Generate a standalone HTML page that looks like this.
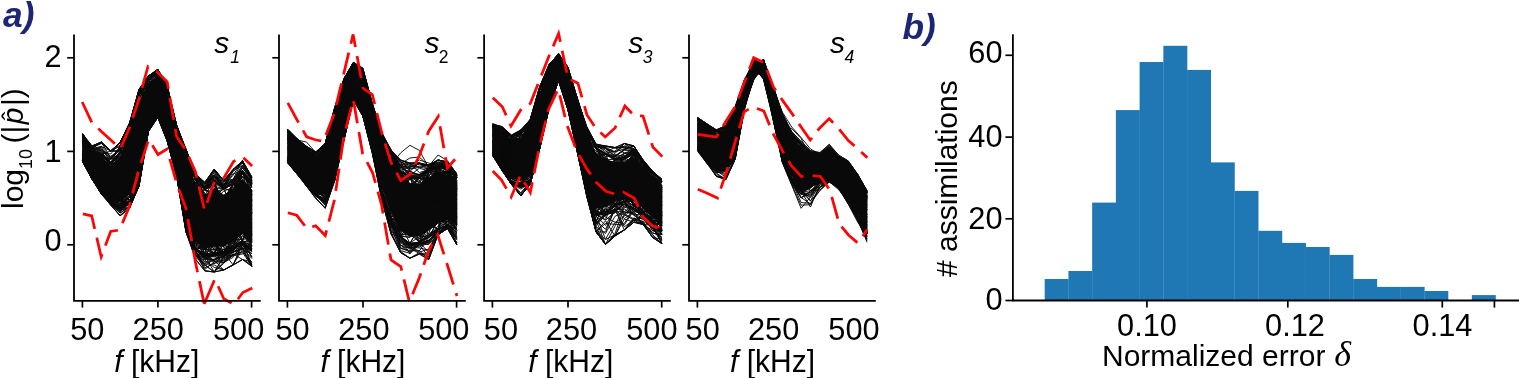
<!DOCTYPE html>
<html lang="en"><head><meta charset="utf-8"><title>Figure</title>
<style>html,body{margin:0;padding:0;background:#fff;width:1519px;height:378px;overflow:hidden}</style></head>
<body>
<svg width="1519" height="378" viewBox="0 0 1519 378" style="display:block;position:absolute;left:0;top:0">
<rect width="1519" height="378" fill="#fff"/>
<g>
<polygon fill="#0a0a0a" stroke="#0a0a0a" stroke-width="0.8" stroke-linejoin="round" points="82.5,135.5 91.9,151 101.3,157 110.7,165.8 120.1,157.8 129.6,134.7 139,102.9 148.4,83.7 157.8,75.1 167.2,92.7 176.6,131.9 186,160.2 195.4,184.4 204.8,196.1 214.2,188.5 223.7,194.9 233.1,189.9 242.5,178.7 251.9,190.2 251.9,242.8 242.5,233.3 233.1,241.1 223.7,246.1 214.2,246.5 204.8,247.9 195.4,241.6 186,216.8 176.6,170.1 167.2,134.3 157.8,112.4 148.4,125.3 139,171.1 129.6,193.3 120.1,202.2 110.7,199.2 101.3,189.5 91.9,177 82.5,160.5"/>
<path fill="none" stroke="#0a0a0a" stroke-width="0.95" stroke-linejoin="round" d="M82.5,133.9L91.9,147.5L101.3,143L110.7,151L120.1,142.5L129.6,123.2L139,89.6L148.4,76.5L157.8,69.3L167.2,86L176.6,125.2L186,150L195.4,173.7L204.8,182.5L214.2,169.7L223.7,181.9L233.1,170.2L242.5,160.8L251.9,177.8M82.5,161.3L91.9,178.9L101.3,193.6L110.7,203.6L120.1,212.9L129.6,206.4L139,184.5L148.4,130.6L157.8,117L167.2,141L176.6,176L186,231L195.4,259L204.8,270.8L214.2,272L223.7,270L233.1,265L242.5,259.5L251.9,264.7M82.5,135L91.9,146L101.3,142L110.7,151L120.1,142.5L129.6,123L139,90.7L148.4,76L157.8,71.7L167.2,88.4L176.6,128.2L186,152.1L195.4,176.5L204.8,183L214.2,175L223.7,186.1L233.1,169.5L242.5,163L251.9,178.1M82.5,140.4L91.9,151L101.3,161.7L110.7,168.7L120.1,165.6L129.6,131.8L139,121.5L148.4,97.2L157.8,81L167.2,103.5L176.6,150L186,201.3L195.4,181.8L204.8,208.1L214.2,203L223.7,201.1L233.1,183.9L242.5,192.4L251.9,184M82.5,157.1L91.9,167L101.3,184.7L110.7,201.3L120.1,210.5L129.6,188.5L139,159.6L148.4,128.6L157.8,115.4L167.2,138.2L176.6,168.8L186,222.5L195.4,245.3L204.8,247.3L214.2,236.1L223.7,247.1L233.1,246.4L242.5,235.8L251.9,241.6M82.5,161.5L91.9,178.8L101.3,191.7L110.7,205L120.1,215.8L129.6,208L139,186L148.4,131L157.8,115.5L167.2,141L176.6,176L186,232L195.4,254.5L204.8,269.4L214.2,261.9L223.7,260.2L233.1,254.7L242.5,252.5L251.9,266.4M82.5,134.2L91.9,148.9L101.3,142L110.7,151L120.1,146.2L129.6,123.6L139,91.6L148.4,79L157.8,72.3L167.2,88.8L176.6,128.9L186,152.3L195.4,174.9L204.8,183.5L214.2,170.2L223.7,180.5L233.1,169.5L242.5,162.9L251.9,180.4M82.5,138.1L91.9,159L101.3,166.3L110.7,165.6L120.1,153.3L129.6,156.7L139,127.2L148.4,109.9L157.8,105.9L167.2,101L176.6,139.2L186,170.1L195.4,196.2L204.8,207.6L214.2,196.2L223.7,199.6L233.1,182.9L242.5,171.7L251.9,183.6M82.5,134.6L91.9,149.6L101.3,150.7L110.7,158.8L120.1,147.9L129.6,123.7L139,90L148.4,76L157.8,70.3L167.2,86.6L176.6,127.2L186,149.5L195.4,175.1L204.8,182.5L214.2,169L223.7,180.5L233.1,169.5L242.5,163.1L251.9,177M82.5,141.9L91.9,151.1L101.3,160.1L110.7,163.5L120.1,176.5L129.6,128.2L139,113.6L148.4,97.5L157.8,72.5L167.2,98.1L176.6,147.9L186,184.1L195.4,205.7L204.8,223.6L214.2,211.7L223.7,214.6L233.1,202.9L242.5,199.8L251.9,192.3M82.5,160.5L91.9,177.5L101.3,191.8L110.7,201.1L120.1,207.1L129.6,200.6L139,178.2L148.4,129L157.8,94L167.2,127.7L176.6,158.6L186,201.7L195.4,214.9L204.8,218L214.2,218.7L223.7,247.6L233.1,250.2L242.5,240.8L251.9,251.9M82.5,134.4L91.9,149L101.3,146.2L110.7,157.3L120.1,149.7L129.6,123.6L139,89.5L148.4,76L157.8,69.3L167.2,85.6L176.6,127.5L186,152.9L195.4,175.7L204.8,188.1L214.2,179.3L223.7,187.8L233.1,182.9L242.5,167.4L251.9,182.2M82.5,135.4L91.9,151L101.3,163.6L110.7,169.7L120.1,153.4L129.6,145.6L139,92.8L148.4,80L157.8,72.5L167.2,88.4L176.6,131.9L186,158L195.4,176.6L204.8,190L214.2,180.6L223.7,185L233.1,179L242.5,171.2L251.9,184M82.5,135.5L91.9,157.5L101.3,161.5L110.7,169.8L120.1,164.4L129.6,126.9L139,92.8L148.4,91.7L157.8,81.1L167.2,91.6L176.6,133.8L186,153L195.4,180.8L204.8,189.9L214.2,182.3L223.7,187.5L233.1,192.6L242.5,172L251.9,182.6M82.5,135.3L91.9,151L101.3,183.3L110.7,169L120.1,161.7L129.6,129L139,99.2L148.4,79.2L157.8,71.6L167.2,89L176.6,129L186,177.5L195.4,179.8L204.8,194.6L214.2,230L223.7,200.9L233.1,183.8L242.5,172L251.9,184M82.5,160.7L91.9,177.6L101.3,194L110.7,205L120.1,206.8L129.6,201.9L139,181.3L148.4,129.9L157.8,115.8L167.2,141L176.6,176L186,232L195.4,257.5L204.8,263.6L214.2,265L223.7,270L233.1,264.6L242.5,249.6L251.9,266.4M82.5,138.3L91.9,151.9L101.3,150.4L110.7,167.8L120.1,168.7L129.6,142.8L139,132.1L148.4,101.1L157.8,89.9L167.2,88.7L176.6,129L186,168L195.4,217.5L204.8,240.4L214.2,240.3L223.7,206.3L233.1,182.8L242.5,180.8L251.9,196.1M82.5,134.9L91.9,146L101.3,149.2L110.7,156.3L120.1,149.6L129.6,126.1L139,91.8L148.4,79L157.8,71.5L167.2,88.5L176.6,128.5L186,151.6L195.4,174.8L204.8,189.7L214.2,178.7L223.7,188.5L233.1,182.6L242.5,167.7L251.9,179.2M82.5,136.7L91.9,150.3L101.3,153.2L110.7,162.9L120.1,163.6L129.6,125.6L139,92.8L148.4,79.6L157.8,72.5L167.2,88.8L176.6,129L186,171.8L195.4,189L204.8,198.6L214.2,188.7L223.7,188.7L233.1,184L242.5,171.9L251.9,183.2M82.5,159.6L91.9,173.2L101.3,191.3L110.7,201.7L120.1,209.3L129.6,202.3L139,181.1L148.4,126.9L157.8,111L167.2,138.1L176.6,173L186,203.4L195.4,236.9L204.8,228.5L214.2,241L223.7,229.4L233.1,217.9L242.5,225L251.9,239.8M82.5,150.8L91.9,177.1L101.3,187.3L110.7,193.8L120.1,197.4L129.6,169.2L139,181L148.4,129L157.8,108.4L167.2,129.5L176.6,153.4L186,200.3L195.4,248.7L204.8,228.2L214.2,229.8L223.7,241.2L233.1,247.3L242.5,243.1L251.9,249M82.5,135.5L91.9,156.9L101.3,172.8L110.7,175.7L120.1,160.5L129.6,142L139,92.5L148.4,79.9L157.8,72.1L167.2,107.9L176.6,144.9L186,169L195.4,183.2L204.8,187L214.2,180.9L223.7,209.5L233.1,185.5L242.5,183.7L251.9,200.5M82.5,161.5L91.9,178.7L101.3,192.8L110.7,204.6L120.1,207.8L129.6,203.1L139,185.1L148.4,129.5L157.8,116.8L167.2,139.2L176.6,173L186,224.9L195.4,249.5L204.8,258.9L214.2,255.4L223.7,262.7L233.1,251.7L242.5,249.4L251.9,253.6M82.5,154.3L91.9,164.7L101.3,188.5L110.7,201L120.1,199.5L129.6,193.9L139,150.3L148.4,105.9L157.8,94L167.2,125.6L176.6,166.6L186,201.8L195.4,243.2L204.8,254.1L214.2,252.3L223.7,252.5L233.1,242L242.5,230.1L251.9,245.5M82.5,150L91.9,177L101.3,184.8L110.7,195.1L120.1,184.7L129.6,192.5L139,181.3L148.4,129.3L157.8,115.3L167.2,126.8L176.6,159L186,203L195.4,221.4L204.8,254L214.2,254L223.7,249.5L233.1,247.1L242.5,225.3L251.9,227M82.5,139.3L91.9,159.3L101.3,155.2L110.7,163.4L120.1,153.5L129.6,126.4L139,92.6L148.4,85.4L157.8,85.4L167.2,108.4L176.6,138.8L186,158.8L195.4,197.5L204.8,195L214.2,190.2L223.7,211.7L233.1,191.4L242.5,171.9L251.9,184M82.5,133.7L91.9,147.8L101.3,142L110.7,151L120.1,142.5L129.6,123L139,89.5L148.4,76L157.8,69.3L167.2,85.5L176.6,125L186,149.5L195.4,175.8L204.8,184.9L214.2,177.5L223.7,185.1L233.1,169.5L242.5,160.8L251.9,177M82.5,160.9L91.9,177.8L101.3,188.2L110.7,201.4L120.1,211.7L129.6,201.6L139,182.6L148.4,126.2L157.8,115.1L167.2,129.4L176.6,173.1L186,209.3L195.4,209.2L204.8,248.7L214.2,263.9L223.7,254.2L233.1,252.6L242.5,244.1L251.9,250.4M82.5,156.6L91.9,173.3L101.3,172.8L110.7,199.1L120.1,207.5L129.6,185.1L139,181.1L148.4,125.9L157.8,106.3L167.2,138L176.6,170.8L186,217.3L195.4,249.3L204.8,255.3L214.2,254.8L223.7,229.4L233.1,206L242.5,224.8L251.9,219.9M82.5,135.5L91.9,161.8L101.3,158.9L110.7,168.6L120.1,160.2L129.6,158.3L139,94.1L148.4,85L157.8,77.2L167.2,102.3L176.6,143.9L186,165.4L195.4,194.4L204.8,199.2L214.2,201.1L223.7,202.8L233.1,188.6L242.5,181.1L251.9,200.1M82.5,135.2L91.9,151L101.3,146.4L110.7,151L120.1,142.5L129.6,124.3L139,96.1L148.4,80L157.8,74.6L167.2,88.8L176.6,125L186,149.5L195.4,175.5L204.8,188.1L214.2,172.4L223.7,188L233.1,173.9L242.5,170.8L251.9,184.9M82.5,153.6L91.9,177L101.3,181.6L110.7,201L120.1,206.5L129.6,192.8L139,157.4L148.4,123.8L157.8,94.7L167.2,122.3L176.6,161.3L186,223.2L195.4,227.8L204.8,255.1L214.2,254L223.7,235.6L233.1,247.7L242.5,245.6L251.9,249.6M82.5,155.5L91.9,177.1L101.3,191.1L110.7,201L120.1,206.5L129.6,195.6L139,181L148.4,129.1L157.8,112.1L167.2,134.1L176.6,173.9L186,224.7L195.4,249L204.8,258.1L214.2,254.5L223.7,236.9L233.1,244.2L242.5,220.9L251.9,228.6M82.5,160.5L91.9,176.4L101.3,189.2L110.7,201.7L120.1,206.6L129.6,201L139,183.4L148.4,129.2L157.8,116.2L167.2,140.1L176.6,173.7L186,221.8L195.4,249.5L204.8,256.9L214.2,260.5L223.7,255.4L233.1,255.2L242.5,254L251.9,250M82.5,134.3L91.9,147.9L101.3,155.1L110.7,163.8L120.1,145.2L129.6,125L139,91.3L148.4,78L157.8,70.4L167.2,85.5L176.6,127.5L186,150.3L195.4,174.5L204.8,183.9L214.2,169.9L223.7,186.2L233.1,180.6L242.5,165.9L251.9,177.8M82.5,160.5L91.9,175.7L101.3,188L110.7,201L120.1,185.6L129.6,201.2L139,172.2L148.4,120.5L157.8,115.2L167.2,138.1L176.6,173L186,217.6L195.4,221.6L204.8,244.1L214.2,255L223.7,245.2L233.1,248.7L242.5,231.4L251.9,234.5M82.5,135.4L91.9,150.3L101.3,148.9L110.7,158.1L120.1,149.2L129.6,125L139,92.8L148.4,79.6L157.8,70.9L167.2,102.6L176.6,129L186,152.5L195.4,187.1L204.8,211L214.2,180.9L223.7,187.3L233.1,180.5L242.5,176.5L251.9,184M82.5,135.2L91.9,146.3L101.3,142.9L110.7,151L120.1,151.9L129.6,127L139,92.9L148.4,79.1L157.8,71.9L167.2,85.5L176.6,125.9L186,149.5L195.4,173.5L204.8,182.5L214.2,169L223.7,184.1L233.1,179.5L242.5,168.3L251.9,178M82.5,155.6L91.9,159.2L101.3,175.2L110.7,201.4L120.1,207.3L129.6,201.1L139,181.4L148.4,129.2L157.8,115.2L167.2,137.7L176.6,173L186,224L195.4,240.9L204.8,235.2L214.2,245.4L223.7,252.7L233.1,248.4L242.5,241.5L251.9,250.4M82.5,161.3L91.9,179L101.3,193.8L110.7,204L120.1,215.8L129.6,208L139,186L148.4,131.1L157.8,116.6L167.2,138.4L176.6,174.9L186,227.2L195.4,249.2L204.8,255.8L214.2,252.8L223.7,252L233.1,248.8L242.5,240.8L251.9,257.7M82.5,143.5L91.9,160.4L101.3,163.8L110.7,169.1L120.1,156.8L129.6,147.6L139,93.4L148.4,85.8L157.8,74.4L167.2,92.8L176.6,129L186,185.2L195.4,183.7L204.8,196.7L214.2,189.5L223.7,201.2L233.1,196.5L242.5,185.2L251.9,204.3M82.5,137.4L91.9,150.6L101.3,153.5L110.7,163.5L120.1,166.2L129.6,146L139,111.1L148.4,100.3L157.8,73.4L167.2,87.9L176.6,128.4L186,152.8L195.4,190.2L204.8,225.8L214.2,181.9L223.7,223.4L233.1,223.1L242.5,206.2L251.9,206.3M82.5,134.4L91.9,149L101.3,142L110.7,158.1L120.1,148.5L129.6,125.8L139,92.2L148.4,77.2L157.8,72.1L167.2,86.9L176.6,128.2L186,149.7L195.4,175.4L204.8,184.2L214.2,174.6L223.7,182.8L233.1,169.5L242.5,160.8L251.9,177.9M82.5,160.5L91.9,177L101.3,191.4L110.7,201.5L120.1,207.3L129.6,204.8L139,185.9L148.4,131.5L157.8,115.9L167.2,139.4L176.6,174.2L186,224.6L195.4,254.4L204.8,263.2L214.2,260.1L223.7,270L233.1,265L242.5,259.5L251.9,266.4M82.5,160.5L91.9,172.5L101.3,186.2L110.7,199.5L120.1,207.4L129.6,202.4L139,181.8L148.4,129L157.8,115.1L167.2,138.1L176.6,172L186,224.7L195.4,249.4L204.8,245.1L214.2,254.7L223.7,249.5L233.1,247.1L242.5,215.8L251.9,233.4M82.5,155.3L91.9,177.7L101.3,191.5L110.7,201.6L120.1,210.4L129.6,202.2L139,182.2L148.4,128.7L157.8,115.1L167.2,138L176.6,173.3L186,225L195.4,244.3L204.8,233.1L214.2,233.6L223.7,252.4L233.1,249L242.5,243.3L251.9,237.6M82.5,156.4L91.9,176.4L101.3,188.7L110.7,189.9L120.1,187.7L129.6,188.9L139,173.6L148.4,125.3L157.8,115.8L167.2,138.1L176.6,173L186,210.5L195.4,235.4L204.8,254L214.2,254.3L223.7,252L233.1,247.1L242.5,240L251.9,222.7M82.5,160.6L91.9,177.1L101.3,183.2L110.7,189L120.1,207L129.6,168L139,160.2L148.4,129.1L157.8,115.1L167.2,138.4L176.6,173.2L186,230L195.4,249.5L204.8,244.3L214.2,254L223.7,256.6L233.1,248.7L242.5,245.4L251.9,249.6M82.5,135.4L91.9,151.1L101.3,152.8L110.7,154L120.1,142.5L129.6,123.5L139,91.6L148.4,79L157.8,69.4L167.2,87L176.6,127L186,151.5L195.4,175.5L204.8,186.2L214.2,177.8L223.7,186.5L233.1,179.9L242.5,165L251.9,181.4M82.5,141L91.9,162.5L101.3,167L110.7,174.4L120.1,170.6L129.6,148.9L139,109.8L148.4,79.8L157.8,91.9L167.2,90.5L176.6,132.5L186,175.5L195.4,204.1L204.8,218.6L214.2,219.3L223.7,231.1L233.1,217.7L242.5,240L251.9,212.2M82.5,161L91.9,178.4L101.3,194L110.7,203.8L120.1,210.3L129.6,207.2L139,186L148.4,131.5L157.8,117.5L167.2,141L176.6,175.6L186,231.1L195.4,256.1L204.8,257.4L214.2,261.5L223.7,260.6L233.1,255.8L242.5,248.1L251.9,266.4M82.5,147L91.9,164.3L101.3,178.5L110.7,185.8L120.1,185L129.6,189.2L139,165.5L148.4,106.6L157.8,94.6L167.2,111.5L176.6,155.8L186,181.1L195.4,213L204.8,237.1L214.2,233.1L223.7,220.7L233.1,213L242.5,212.5L251.9,232.1M82.5,143.8L91.9,157.3L101.3,163.4L110.7,171.1L120.1,153.3L129.6,126.9L139,94.3L148.4,91.9L157.8,78.8L167.2,86.9L176.6,128.3L186,153L195.4,195.3L204.8,208.7L214.2,231.4L223.7,230.7L233.1,223.8L242.5,208.1L251.9,184M82.5,138.9L91.9,155.2L101.3,155.5L110.7,164L120.1,153.4L129.6,128.7L139,93L148.4,84.2L157.8,71.8L167.2,88.7L176.6,127.4L186,152.3L195.4,177L204.8,190L214.2,181L223.7,189.5L233.1,205.7L242.5,171.9L251.9,194.8M82.5,154.3L91.9,174L101.3,191L110.7,191.6L120.1,197.1L129.6,186L139,132.9L148.4,112L157.8,99L167.2,138L176.6,164.7L186,224.8L195.4,246.8L204.8,257.9L214.2,256.2L223.7,253.2L233.1,248.8L242.5,242.6L251.9,254M82.5,145.6L91.9,166.7L101.3,189.2L110.7,201L120.1,206.5L129.6,195.5L139,164.5L148.4,120.7L157.8,114.3L167.2,118.5L176.6,170.4L186,198.9L195.4,232.8L204.8,237.2L214.2,237.6L223.7,230L233.1,219.6L242.5,220.8L251.9,223.9M82.5,152.4L91.9,164.1L101.3,160L110.7,178.9L120.1,188.6L129.6,157.1L139,145.8L148.4,101.5L157.8,98.3L167.2,127L176.6,168L186,219.1L195.4,228.2L204.8,250L214.2,237.1L223.7,242.8L233.1,245.2L242.5,227.5L251.9,218.4M82.5,135.4L91.9,153.9L101.3,157.1L110.7,159.7L120.1,153.5L129.6,160.1L139,148.5L148.4,90.7L157.8,78.9L167.2,99.2L176.6,143L186,166.5L195.4,176.9L204.8,198.2L214.2,197L223.7,188.7L233.1,183.6L242.5,173.1L251.9,186.1M82.5,143.5L91.9,160.1L101.3,163.4L110.7,163.8L120.1,161.7L129.6,160.2L139,156.2L148.4,100.9L157.8,84.4L167.2,114.5L176.6,157.2L186,186.1L195.4,210L204.8,199L214.2,200.6L223.7,191L233.1,187.7L242.5,177.2L251.9,184.8M82.5,159.1L91.9,173.5L101.3,191L110.7,201.1L120.1,207.3L129.6,194.8L139,175.8L148.4,123L157.8,103.5L167.2,114.7L176.6,160.6L186,199.2L195.4,250.2L204.8,254.2L214.2,252L223.7,244.4L233.1,250.2L242.5,235.6L251.9,243.2M82.5,160.3L91.9,165.9L101.3,178.9L110.7,201L120.1,195.7L129.6,181.6L139,142.2L148.4,84.9L157.8,89.8L167.2,129.7L176.6,159.5L186,176.6L195.4,220.3L204.8,234.5L214.2,249.5L223.7,252.1L233.1,237L242.5,232.1L251.9,212.4M82.5,160.6L91.9,177L101.3,189.6L110.7,192.8L120.1,176.4L129.6,176.6L139,167.9L148.4,113.2L157.8,113.8L167.2,137.5L176.6,173L186,213.8L195.4,215.6L204.8,248.6L214.2,254.2L223.7,251.7L233.1,240.1L242.5,231.1L251.9,241.7M82.5,135.5L91.9,151L101.3,156.8L110.7,170.7L120.1,153.1L129.6,148.6L139,127.5L148.4,102.9L157.8,98.5L167.2,100.9L176.6,127.6L186,153L195.4,203.5L204.8,224.5L214.2,200.3L223.7,203L233.1,201.7L242.5,171.6L251.9,183.9M82.5,159.4L91.9,177.5L101.3,191.3L110.7,193.8L120.1,209.4L129.6,201L139,181.4L148.4,130.2L157.8,115.2L167.2,132.2L176.6,173.2L186,224.4L195.4,239.7L204.8,238.2L214.2,242.4L223.7,253L233.1,247.2L242.5,241.7L251.9,257.1M82.5,135.3L91.9,156.2L101.3,163.5L110.7,169.3L120.1,153.3L129.6,126.2L139,92.3L148.4,79.9L157.8,72.1L167.2,88.6L176.6,128.7L186,160L195.4,180.1L204.8,193L214.2,207.4L223.7,199.6L233.1,200.9L242.5,172L251.9,191.1M82.5,134L91.9,146L101.3,142.2L110.7,151.2L120.1,150L129.6,126.4L139,90.2L148.4,78.4L157.8,70.4L167.2,87.6L176.6,126.3L186,149.5L195.4,175.4L204.8,187.6L214.2,169.1L223.7,180.5L233.1,169.5L242.5,160.8L251.9,177M82.5,160.6L91.9,177.3L101.3,190.3L110.7,185.2L120.1,201.5L129.6,201L139,182.8L148.4,130L157.8,115.5L167.2,139.2L176.6,170.7L186,220.7L195.4,238.7L204.8,255.7L214.2,255L223.7,212.8L233.1,241.9L242.5,220L251.9,246.2M82.5,161.5L91.9,179L101.3,192.9L110.7,205L120.1,215.8L129.6,208L139,186L148.4,131.4L157.8,117.5L167.2,141L176.6,176L186,232L195.4,256.4L204.8,260L214.2,267.4L223.7,270L233.1,265L242.5,259.5L251.9,261.8M82.5,135.5L91.9,151L101.3,151.4L110.7,163.9L120.1,151.5L129.6,126.8L139,91.2L148.4,79.6L157.8,71.6L167.2,88.9L176.6,138.2L186,169.5L195.4,176.6L204.8,187.3L214.2,175L223.7,188.1L233.1,183.3L242.5,171.4L251.9,183.8M82.5,140.8L91.9,151.6L101.3,155.5L110.7,158.8L120.1,146.6L129.6,125.1L139,90.9L148.4,79.3L157.8,72.5L167.2,88.8L176.6,128.5L186,152.4L195.4,176.7L204.8,188.9L214.2,180.6L223.7,188.9L233.1,184L242.5,176.6L251.9,184M82.5,160.4L91.9,175L101.3,183L110.7,190L120.1,184.7L129.6,179.5L139,149.2L148.4,111.4L157.8,114.6L167.2,132.1L176.6,173L186,224L195.4,249.2L204.8,243.3L214.2,243.8L223.7,257.2L233.1,249.7L242.5,242.5L251.9,249.3M82.5,160.6L91.9,177.6L101.3,192.8L110.7,202.1L120.1,208.6L129.6,202.1L139,181.9L148.4,129L157.8,112.6L167.2,138.1L176.6,168.9L186,220L195.4,249L204.8,253.3L214.2,255.9L223.7,253.6L233.1,249.7L242.5,240.6L251.9,249.3M82.5,134.8L91.9,147.9L101.3,149.8L110.7,158.9L120.1,149.2L129.6,126.8L139,91.8L148.4,78.9L157.8,71.7L167.2,87.4L176.6,125L186,151.4L195.4,175.6L204.8,186.8L214.2,175.4L223.7,184.9L233.1,170.6L242.5,165.6L251.9,177M82.5,133.5L91.9,147.9L101.3,143.5L110.7,151L120.1,145.2L129.6,123.1L139,89.5L148.4,76L157.8,71.3L167.2,87.8L176.6,127.4L186,149.5L195.4,174.4L204.8,182.5L214.2,169.5L223.7,180.5L233.1,179.4L242.5,160.8L251.9,180.1M82.5,134.1L91.9,150.2L101.3,154.5L110.7,151L120.1,142.5L129.6,123L139,89.5L148.4,76L157.8,71.7L167.2,87.7L176.6,126.7L186,150.3L195.4,175.6L204.8,188L214.2,170.9L223.7,187.4L233.1,171.7L242.5,162.2L251.9,180.2M82.5,160.6L91.9,177.2L101.3,191.6L110.7,202L120.1,207.3L129.6,201.6L139,181.7L148.4,129.1L157.8,115.6L167.2,125.5L176.6,157.9L186,224.2L195.4,249.3L204.8,247.9L214.2,254L223.7,253.5L233.1,245L242.5,240.6L251.9,249M82.5,135.5L91.9,151L101.3,162.6L110.7,163.8L120.1,151.7L129.6,130.6L139,102L148.4,84.8L157.8,79.1L167.2,89L176.6,158.5L186,167.5L195.4,183.3L204.8,189.6L214.2,180.8L223.7,211.1L233.1,200.2L242.5,194.6L251.9,193.2M82.5,160.5L91.9,177.5L101.3,191.4L110.7,202.4L120.1,209.4L129.6,203.4L139,182.6L148.4,129.2L157.8,112.7L167.2,138.7L176.6,173.5L186,226.2L195.4,250.3L204.8,246L214.2,242.2L223.7,256.8L233.1,248.3L242.5,241.2L251.9,246M82.5,135.4L91.9,150.8L101.3,154L110.7,161.9L120.1,152.7L129.6,126.9L139,92.9L148.4,92.5L157.8,77.6L167.2,91L176.6,128.8L186,158.7L195.4,176.7L204.8,186.5L214.2,175.3L223.7,188.5L233.1,180.2L242.5,174L251.9,184M82.5,155.4L91.9,166.7L101.3,187.2L110.7,201.3L120.1,208L129.6,201.1L139,181L148.4,129L157.8,115.3L167.2,139.8L176.6,173.3L186,226.1L195.4,249.2L204.8,254.7L214.2,244L223.7,236.4L233.1,243.6L242.5,224L251.9,249.1M82.5,135.5L91.9,151L101.3,163.3L110.7,192.4L120.1,160.2L129.6,136.1L139,94.8L148.4,79.7L157.8,72.5L167.2,88.7L176.6,128.9L186,167L195.4,176.3L204.8,189.8L214.2,183.3L223.7,188.4L233.1,184.7L242.5,177.2L251.9,184M82.5,154.7L91.9,165.5L101.3,178.3L110.7,187.9L120.1,201.1L129.6,166.3L139,148L148.4,110.2L157.8,115L167.2,122.5L176.6,171.5L186,189.2L195.4,229.4L204.8,237L214.2,242.9L223.7,231.4L233.1,204.3L242.5,187.7L251.9,235.6M82.5,155.2L91.9,169.2L101.3,175.3L110.7,200.7L120.1,208.8L129.6,197.1L139,180.9L148.4,129.1L157.8,116.1L167.2,123.4L176.6,166.1L186,224L195.4,224.4L204.8,246.2L214.2,249.9L223.7,252.2L233.1,239.6L242.5,239.4L251.9,237.9M82.5,135.5L91.9,150.2L101.3,162.9L110.7,177.1L120.1,173.4L129.6,131.4L139,93L148.4,97.2L157.8,87.2L167.2,89.2L176.6,130.1L186,156.9L195.4,177L204.8,189.5L214.2,194.5L223.7,203.5L233.1,189.5L242.5,170.5L251.9,183.2M82.5,160.5L91.9,176.1L101.3,181.4L110.7,170.5L120.1,166.4L129.6,142.5L139,135.1L148.4,115L157.8,115L167.2,134.7L176.6,156.5L186,224.7L195.4,249.1L204.8,247.1L214.2,239.2L223.7,221.6L233.1,234.5L242.5,232.3L251.9,250.1M82.5,140.1L91.9,153.9L101.3,161.1L110.7,163.9L120.1,156.1L129.6,132.1L139,118.7L148.4,92.6L157.8,72.4L167.2,91L176.6,148.3L186,153L195.4,177L204.8,195.4L214.2,180.7L223.7,188.9L233.1,190.2L242.5,171.7L251.9,192M82.5,160.5L91.9,176.3L101.3,191L110.7,201.1L120.1,203.6L129.6,201.2L139,181.1L148.4,118.3L157.8,112.9L167.2,138.1L176.6,173.2L186,216.7L195.4,248.6L204.8,255.7L214.2,254.4L223.7,254.1L233.1,251L242.5,240.5L251.9,249.7M82.5,161.1L91.9,177.7L101.3,192.4L110.7,203L120.1,213.1L129.6,207.1L139,182.4L148.4,129.5L157.8,116.3L167.2,140.3L176.6,175.2L186,232L195.4,259L204.8,270.8L214.2,272L223.7,270L233.1,265L242.5,244.3L251.9,256.4M82.5,160.6L91.9,179L101.3,193.7L110.7,205L120.1,215.2L129.6,207.8L139,186L148.4,131.5L157.8,117.5L167.2,141L176.6,175.3L186,229.6L195.4,254.3L204.8,264.4L214.2,272L223.7,261.9L233.1,249.3L242.5,247.7L251.9,266.4M82.5,138.3L91.9,156.6L101.3,153L110.7,163.4L120.1,163.3L129.6,126.9L139,92.2L148.4,79.3L157.8,73.5L167.2,108.4L176.6,167.9L186,215.7L195.4,195.5L204.8,189.3L214.2,185.1L223.7,213.7L233.1,184L242.5,173.6L251.9,187.6M82.5,160.4L91.9,174.5L101.3,191L110.7,201.7L120.1,197.7L129.6,170.4L139,162.9L148.4,129.2L157.8,115L167.2,138.1L176.6,168.5L186,224L195.4,233.2L204.8,249.4L214.2,249.9L223.7,249L233.1,247.9L242.5,241.5L251.9,240.8M82.5,156.2L91.9,168.1L101.3,175.7L110.7,179.9L120.1,181.4L129.6,149.3L139,130.6L148.4,94.3L157.8,80.6L167.2,101.6L176.6,140.1L186,152.9L195.4,214.9L204.8,217.5L214.2,181L223.7,211.9L233.1,203.8L242.5,195L251.9,213.7M82.5,135.2L91.9,150.6L101.3,155.5L110.7,162.1L120.1,151.5L129.6,126.7L139,92.5L148.4,79.3L157.8,72.2L167.2,87.8L176.6,129L186,152.4L195.4,176.5L204.8,188.6L214.2,177L223.7,188.3L233.1,184L242.5,184.4L251.9,190.2M82.5,160.2L91.9,177L101.3,191.2L110.7,195.3L120.1,185.6L129.6,201.3L139,178.4L148.4,111.1L157.8,96.1L167.2,127.2L176.6,173.1L186,224.1L195.4,250.5L204.8,255.1L214.2,255.2L223.7,254.9L233.1,247.2L242.5,240.3L251.9,246.5M82.5,137.3L91.9,150.9L101.3,155.5L110.7,163.8L120.1,165.3L129.6,139.1L139,104.7L148.4,102.1L157.8,71.8L167.2,88.1L176.6,125.1L186,152.3L195.4,177L204.8,199.2L214.2,192.6L223.7,188.9L233.1,206.9L242.5,190.7L251.9,191.2M82.5,136.1L91.9,154.1L101.3,161.6L110.7,164L120.1,170.3L129.6,127.6L139,92.8L148.4,82.1L157.8,77.2L167.2,95.5L176.6,130.8L186,159.5L195.4,177L204.8,188.8L214.2,186.1L223.7,188.8L233.1,183.9L242.5,185.1L251.9,194.5M82.5,160.8L91.9,178L101.3,194L110.7,204.1L120.1,208.1L129.6,206.9L139,182.7L148.4,130L157.8,117.3L167.2,139.4L176.6,174.1L186,229.4L195.4,254.5L204.8,265.8L214.2,259.2L223.7,258.9L233.1,249.7L242.5,240.4L251.9,264.8M82.5,160.7L91.9,177.6L101.3,191.9L110.7,201.2L120.1,209.8L129.6,202.3L139,182.2L148.4,129.1L157.8,116.2L167.2,140.4L176.6,175.4L186,226.2L195.4,251L204.8,267.8L214.2,263.1L223.7,262.6L233.1,257.4L242.5,243.1L251.9,265.3M82.5,135.5L91.9,155.8L101.3,167.8L110.7,176.1L120.1,160.4L129.6,149.5L139,139.8L148.4,102.3L157.8,103.8L167.2,123L176.6,157.8L186,207.3L195.4,204.7L204.8,204.4L214.2,207.7L223.7,216.5L233.1,227L242.5,221.5L251.9,219.4M82.5,137.4L91.9,159.2L101.3,160.7L110.7,167.2L120.1,162.2L129.6,131.5L139,99.2L148.4,79.2L157.8,72.5L167.2,90.2L176.6,135.3L186,170.1L195.4,176.8L204.8,222.7L214.2,209L223.7,209.5L233.1,183.6L242.5,183.7L251.9,201.9M82.5,161.2L91.9,177.7L101.3,191.3L110.7,203.6L120.1,211.7L129.6,203.5L139,186L148.4,131.2L157.8,116.2L167.2,139.5L176.6,173.8L186,226.8L195.4,252.8L204.8,256.6L214.2,256.9L223.7,257.7L233.1,254.9L242.5,251.5L251.9,262.5M82.5,160.9L91.9,177.7L101.3,193.8L110.7,201.3L120.1,210.1L129.6,208L139,183L148.4,131.5L157.8,115.4L167.2,139.4L176.6,176L186,232L195.4,255.2L204.8,256.5L214.2,254.4L223.7,259.1L233.1,252.6L242.5,247.9L251.9,258.6M82.5,135.4L91.9,160.5L101.3,153.5L110.7,172.6L120.1,158.9L129.6,136.1L139,98.7L148.4,83.3L157.8,78.5L167.2,95.1L176.6,129L186,171.8L195.4,185.7L204.8,219.4L214.2,203.6L223.7,196.4L233.1,200.6L242.5,201.4L251.9,192.6M82.5,136.4L91.9,155.3L101.3,155.4L110.7,159.4L120.1,149.3L129.6,127L139,113.2L148.4,97.3L157.8,88.3L167.2,90.7L176.6,141L186,188L195.4,192.1L204.8,216.7L214.2,198.7L223.7,206.2L233.1,204.6L242.5,172L251.9,210.2M82.5,160.5L91.9,177L101.3,190.8L110.7,201.5L120.1,206.9L129.6,197.5L139,121.7L148.4,107.7L157.8,101.5L167.2,119.3L176.6,154.9L186,215.6L195.4,249.3L204.8,259.4L214.2,259.6L223.7,252L233.1,247L242.5,218.6L251.9,246.4M82.5,153.1L91.9,166.6L101.3,189.7L110.7,203L120.1,208.2L129.6,201.9L139,181L148.4,120.9L157.8,115.3L167.2,135.1L176.6,170.3L186,211.7L195.4,243.5L204.8,243.4L214.2,248.7L223.7,225.4L233.1,225L242.5,240L251.9,227.2M82.5,161.2L91.9,179L101.3,191.2L110.7,202.1L120.1,207.2L129.6,201.1L139,182.4L148.4,131.3L157.8,115.4L167.2,138.2L176.6,173.3L186,225.9L195.4,249.5L204.8,270.8L214.2,272L223.7,263.5L233.1,253.8L242.5,259.5L251.9,266.4M82.5,135.3L91.9,150.6L101.3,163L110.7,164L120.1,153.4L129.6,126.4L139,92.5L148.4,81.4L157.8,72.4L167.2,88.4L176.6,128.5L186,171.9L195.4,191L204.8,190L214.2,185.1L223.7,198.2L233.1,191.7L242.5,170.2L251.9,183.9M82.5,160.5L91.9,173.1L101.3,172.6L110.7,199L120.1,195L129.6,193.1L139,166.3L148.4,129L157.8,115.2L167.2,138.3L176.6,173.2L186,200.9L195.4,205.6L204.8,232.3L214.2,220.9L223.7,238.9L233.1,237.6L242.5,208.9L251.9,214.4M82.5,159.9L91.9,177.1L101.3,184L110.7,189.8L120.1,206.7L129.6,201.3L139,181L148.4,101.3L157.8,90.2L167.2,121.2L176.6,156.2L186,224.3L195.4,249L204.8,252.8L214.2,229.9L223.7,222.2L233.1,217.7L242.5,209.3L251.9,225.5M82.5,153L91.9,174.2L101.3,190.7L110.7,201.8L120.1,206.7L129.6,201.2L139,170.5L148.4,129L157.8,115L167.2,133.4L176.6,166.6L186,218L195.4,249.1L204.8,240.4L214.2,254.2L223.7,249.7L233.1,251.7L242.5,248.7L251.9,249.8M82.5,160.5L91.9,174.8L101.3,187.5L110.7,201.1L120.1,206.9L129.6,191.5L139,181.3L148.4,129.1L157.8,107.9L167.2,138.1L176.6,172.4L186,224.3L195.4,243.3L204.8,254L214.2,227L223.7,243.7L233.1,220.6L242.5,226.3L251.9,205.3M82.5,134.9L91.9,150.6L101.3,147.2L110.7,163L120.1,153.5L129.6,125.1L139,90.1L148.4,76.3L157.8,70.3L167.2,87.3L176.6,125L186,150.3L195.4,174.5L204.8,182.5L214.2,176.7L223.7,184.4L233.1,181.8L242.5,170.4L251.9,181.3M82.5,135.2L91.9,150.4L101.3,156.3L110.7,164L120.1,173.9L129.6,146.6L139,109.9L148.4,89.8L157.8,72.5L167.2,89L176.6,128.8L186,151.1L195.4,174.4L204.8,189.7L214.2,180.5L223.7,188.9L233.1,181L242.5,170.4L251.9,186.9M82.5,159.9L91.9,174.6L101.3,191.2L110.7,190.6L120.1,205L129.6,181.9L139,154.3L148.4,114.1L157.8,109.5L167.2,135.7L176.6,173L186,224L195.4,250.9L204.8,262L214.2,259.3L223.7,256.1L233.1,247.3L242.5,226.8L251.9,249M82.5,134.2L91.9,155.5L101.3,153.5L110.7,162.7L120.1,153.5L129.6,125.8L139,91.9L148.4,76L157.8,69.3L167.2,85.5L176.6,127L186,152.4L195.4,176.3L204.8,190.4L214.2,195.4L223.7,189L233.1,183.4L242.5,170.9L251.9,182.7M82.5,157.6L91.9,177L101.3,187.3L110.7,200.3L120.1,203.9L129.6,201.7L139,182L148.4,120.7L157.8,108.5L167.2,138L176.6,168.3L186,224.1L195.4,249.1L204.8,254.6L214.2,254L223.7,252.1L233.1,247.3L242.5,219.8L251.9,224.5M82.5,160.7L91.9,177.6L101.3,191.8L110.7,201.3L120.1,206.6L129.6,202.7L139,181.5L148.4,130.6L157.8,116.1L167.2,138.9L176.6,173.5L186,225.1L195.4,250.5L204.8,265.2L214.2,272L223.7,256.4L233.1,251.7L242.5,248.2L251.9,250.2M82.5,143.9L91.9,157.6L101.3,162.8L110.7,172.1L120.1,167.4L129.6,180.5L139,136.9L148.4,105.8L157.8,83.2L167.2,103.7L176.6,137L186,164.2L195.4,177L204.8,189.9L214.2,192.3L223.7,210.2L233.1,207L242.5,181.5L251.9,199.4M82.5,160.6L91.9,177.3L101.3,192.3L110.7,201.5L120.1,209.9L129.6,201.8L139,182.1L148.4,129.2L157.8,115.3L167.2,139.7L176.6,173.4L186,224.2L195.4,249.2L204.8,255.6L214.2,272L223.7,257.1L233.1,239.4L242.5,234.2L251.9,231.8M82.5,133.5L91.9,146L101.3,142L110.7,151L120.1,142.5L129.6,124.9L139,92.2L148.4,76.6L157.8,69.3L167.2,86.1L176.6,127.2L186,149.5L195.4,173.5L204.8,188.6L214.2,175.7L223.7,184.9L233.1,175.3L242.5,160.8L251.9,180.3M82.5,157.8L91.9,161.6L101.3,179.4L110.7,185.4L120.1,190.1L129.6,168.4L139,133.7L148.4,119.2L157.8,105.1L167.2,122.8L176.6,157.7L186,203.5L195.4,228.8L204.8,204.3L214.2,202.5L223.7,218.3L233.1,231.9L242.5,240.1L251.9,228.9M82.5,135.5L91.9,150.8L101.3,165.1L110.7,168.4L120.1,157.2L129.6,150.2L139,141.9L148.4,80L157.8,72.5L167.2,90.2L176.6,148L186,208L195.4,206.6L204.8,210.4L214.2,208.6L223.7,218.6L233.1,196.7L242.5,193.7L251.9,187M82.5,160.7L91.9,178L101.3,189.5L110.7,192.5L120.1,206.5L129.6,162.8L139,181L148.4,129.8L157.8,104.4L167.2,138.3L176.6,173.3L186,229.2L195.4,254.2L204.8,258.8L214.2,259.3L223.7,262.9L233.1,255.4L242.5,246.9L251.9,249.3M82.5,143.2L91.9,159L101.3,162.3L110.7,179.6L120.1,171.4L129.6,141.1L139,146.5L148.4,121.9L157.8,93.9L167.2,99.1L176.6,151.7L186,170.9L195.4,241.8L204.8,228L214.2,230.3L223.7,203.7L233.1,201.8L242.5,209.2L251.9,219.1M82.5,157.8L91.9,171.9L101.3,185L110.7,201.3L120.1,202.1L129.6,197.5L139,162.3L148.4,129.1L157.8,115L167.2,138.2L176.6,173.2L186,221.4L195.4,249.2L204.8,255.8L214.2,244.2L223.7,252.2L233.1,265L242.5,243.4L251.9,251.4M82.5,143.2L91.9,157L101.3,155.4L110.7,175L120.1,163.6L129.6,127L139,100.5L148.4,80L157.8,78.2L167.2,95.9L176.6,132.5L186,172.2L195.4,177L204.8,207.3L214.2,180.1L223.7,209.7L233.1,202.3L242.5,184L251.9,185.2M82.5,160.6L91.9,177L101.3,191L110.7,201.1L120.1,208.3L129.6,201.3L139,181.2L148.4,129.1L157.8,115.3L167.2,139.2L176.6,173L186,224L195.4,249L204.8,255L214.2,260.4L223.7,254L233.1,248.3L242.5,245L251.9,246.1M82.5,142.2L91.9,154.8L101.3,175.9L110.7,173.7L120.1,164.8L129.6,161.4L139,139.1L148.4,98.8L157.8,89.4L167.2,113.5L176.6,145.4L186,185L195.4,187.9L204.8,203.8L214.2,180.7L223.7,188.7L233.1,183.1L242.5,192.3L251.9,195.2M82.5,155.7L91.9,168.3L101.3,189.8L110.7,185.1L120.1,199.5L129.6,203.6L139,180.7L148.4,126.6L157.8,97.3L167.2,124.8L176.6,148.2L186,209.6L195.4,229.9L204.8,216.3L214.2,207.8L223.7,206.8L233.1,216.7L242.5,232.1L251.9,235.7"/>
<polyline fill="none" stroke="#fe0404" stroke-width="2.75" stroke-dasharray="22.5 9.05" stroke-linejoin="miter" points="82.2,102 91.8,122.5 101.1,131.2 110.5,139.8 120.3,148.8 129.4,128 138.8,99.5 148,66.5 157.5,72 167.2,82 176.6,136.5 186,150.5 195.5,172 204.5,210 214.4,181.5 223.8,178 233.5,161.5 242.7,157 252.1,166"/>
<polyline fill="none" stroke="#fe0404" stroke-width="2.75" stroke-dasharray="22.5 9.05" stroke-linejoin="miter" points="82.8,213.9 91.7,215.8 101.2,256.8 110.7,231.4 119.5,230 129.4,206.5 138.8,169.5 148.7,139.5 158,154.5 167,149 176.6,183 186,208.5 195.5,262.5 204.2,304"/>
<polyline fill="none" stroke="#fe0404" stroke-width="2.75" stroke-dasharray="25.8 9.3 22.7 9.3 22.7 9.3" stroke-linejoin="miter" points="204.2,304 214.9,279 223.8,298.8 233.9,304.5 242.8,292.5 252.3,288"/>
</g>
<g>
<polygon fill="#0a0a0a" stroke="#0a0a0a" stroke-width="0.8" stroke-linejoin="round" points="287.6,131.2 297,140.9 306.4,148.9 315.8,155.5 325.2,149.5 334.6,117.2 344,86.1 353.4,65.6 362.8,73 372.2,108.6 381.6,140.6 391.1,159.9 400.5,178.1 409.9,183.4 419.3,184.1 428.7,177.4 438.1,171.9 447.5,171.7 456.9,182 456.9,225 447.5,219.8 438.1,223.1 428.7,230.6 419.3,235.9 409.9,236.6 400.5,229.9 391.1,211.1 381.6,186.4 372.2,145.4 362.8,109.5 353.4,96.4 344,131.4 334.6,169.8 325.2,194.5 315.8,192 306.4,181.9 297,170.6 287.6,159.9"/>
<path fill="none" stroke="#0a0a0a" stroke-width="0.95" stroke-linejoin="round" d="M287.6,129.4L297,138.8L306.4,146.3L315.8,151.9L325.2,143.6L334.6,108L344,78.8L353.4,62.4L362.8,68.1L372.2,103.3L381.6,132L391.1,150L400.5,160L409.9,163L419.3,163L428.7,165L438.1,160L447.5,162L456.9,174M287.6,162.8L297,174L306.4,186L315.8,198.5L325.2,207.5L334.6,181L344,139.7L353.4,100L362.8,116L372.2,152.5L381.6,199L391.1,234L400.5,252.5L409.9,258.2L419.3,254L428.7,255.1L438.1,234.7L447.5,228.5L456.9,244.9M287.6,156.7L297,168.9L306.4,183.6L315.8,194.5L325.2,185.7L334.6,176L344,115.9L353.4,85.7L362.8,112L372.2,148.1L381.6,191.1L391.1,217.1L400.5,237.7L409.9,165L419.3,160L428.7,163L438.1,166L447.5,176.5L456.9,224.9M287.6,135.9L297,152.4L306.4,151.5L315.8,153L325.2,145L334.6,116.2L344,91.5L353.4,67.6L362.8,82.9L372.2,106.6L381.6,140.2L391.1,154L400.5,171.5L409.9,195.5L419.3,188.1L428.7,168L438.1,160L447.5,163L456.9,176M287.6,132.6L297,155.5L306.4,156.6L315.8,172.1L325.2,178.5L334.6,115.4L344,100.9L353.4,77.7L362.8,89.1L372.2,133.3L381.6,162.6L391.1,174L400.5,194.4L409.9,187.5L419.3,193.7L428.7,166L438.1,155L447.5,160.7L456.9,174M287.6,131.6L297,139.8L306.4,147.2L315.8,159L325.2,145L334.6,110.6L344,99.9L353.4,79.3L362.8,94.6L372.2,118.8L381.6,148.5L391.1,172.6L400.5,164L409.9,158L419.3,157L428.7,166L438.1,163.9L447.5,174.5L456.9,178M287.6,135.8L297,140L306.4,147.1L315.8,164L325.2,145.7L334.6,111L344,81.4L353.4,64.4L362.8,70.5L372.2,113.2L381.6,135.9L391.1,165L400.5,153L409.9,145.3L419.3,150.3L428.7,167.5L438.1,170L447.5,166.3L456.9,178M287.6,130.3L297,140L306.4,142L315.8,152.5L325.2,144.6L334.6,110.7L344,81.5L353.4,64.6L362.8,70.5L372.2,113.3L381.6,134.8L391.1,150.8L400.5,160L409.9,171.3L419.3,163L428.7,166.9L438.1,165L447.5,163.4L456.9,175.3M287.6,130.2L297,139.9L306.4,147.3L315.8,153L325.2,145L334.6,122.9L344,85.8L353.4,64.5L362.8,70.4L372.2,106.2L381.6,135.9L391.1,155.2L400.5,172L409.9,187.9L419.3,177.4L428.7,170.8L438.1,166L447.5,166.7L456.9,187.3M287.6,162.8L297,174L306.4,184.4L315.8,194.6L325.2,202.1L334.6,177.1L344,137.5L353.4,98.3L362.8,115.6L372.2,152.5L381.6,193.3L391.1,224L400.5,240.7L409.9,243.6L419.3,246L428.7,243.7L438.1,231.8L447.5,228.5L456.9,244.9M287.6,145.7L297,149.7L306.4,157.6L315.8,160.6L325.2,157.6L334.6,159.7L344,104.8L353.4,73.5L362.8,82.9L372.2,119.9L381.6,137.6L391.1,153.6L400.5,171.7L409.9,177.7L419.3,177.9L428.7,170.9L438.1,165.8L447.5,166.5L456.9,181.7M287.6,161.5L297,172.3L306.4,183.6L315.8,194.7L325.2,200.4L334.6,178.3L344,136.1L353.4,98.2L362.8,112.6L372.2,149.2L381.6,195.2L391.1,219.5L400.5,236.9L409.9,244.8L419.3,247L428.7,241.2L438.1,229L447.5,225L456.9,231.9M287.6,130.6L297,139.9L306.4,147.3L315.8,152.8L325.2,144.8L334.6,110.9L344,81.5L353.4,64.5L362.8,70.1L372.2,105.5L381.6,135.1L391.1,154.2L400.5,188.9L409.9,187.6L419.3,201.9L428.7,176.3L438.1,166L447.5,165.5L456.9,177.8M287.6,161L297,171.8L306.4,183.5L315.8,194.6L325.2,199.5L334.6,176.4L344,137L353.4,97.8L362.8,112.3L372.2,150.8L381.6,197L391.1,222.7L400.5,236.6L409.9,243.3L419.3,243.5L428.7,244.6L438.1,234.7L447.5,226.6L456.9,233.8M287.6,130.2L297,139.1L306.4,147.2L315.8,152.8L325.2,145L334.6,110.4L344,81.1L353.4,64.4L362.8,68.6L372.2,102.9L381.6,134.7L391.1,153L400.5,160L409.9,164.2L419.3,163L428.7,166.3L438.1,165.6L447.5,165.2L456.9,180.3M287.6,139.8L297,155.8L306.4,173.2L315.8,179.5L325.2,179.2L334.6,111.9L344,81.4L353.4,67.7L362.8,76.8L372.2,118L381.6,141.7L391.1,175.8L400.5,214.1L409.9,210.9L419.3,209.6L428.7,198.4L438.1,195.3L447.5,186.4L456.9,184.5M287.6,129.4L297,138.8L306.4,146.5L315.8,152.3L325.2,143.6L334.6,109.2L344,80.4L353.4,62.7L362.8,69L372.2,104.9L381.6,134.9L391.1,150.5L400.5,160L409.9,163L419.3,163L428.7,170.3L438.1,162L447.5,162L456.9,175.6M287.6,130.6L297,140L306.4,147.1L315.8,152.8L325.2,144.9L334.6,111L344,81.3L353.4,64.3L362.8,70.2L372.2,106L381.6,136L391.1,153.6L400.5,175.1L409.9,176.8L419.3,182.5L428.7,170.8L438.1,168L447.5,167.8L456.9,180.8M287.6,130.6L297,140L306.4,147.1L315.8,152.9L325.2,144.1L334.6,108L344,80.3L353.4,64.1L362.8,75.5L372.2,113.1L381.6,151.8L391.1,157.1L400.5,177.6L409.9,194L419.3,191.5L428.7,181L438.1,170.3L447.5,166.2L456.9,177.3M287.6,130.6L297,142L306.4,147.3L315.8,162.1L325.2,174.1L334.6,136.6L344,86L353.4,64.3L362.8,84.2L372.2,118.2L381.6,136L391.1,167.9L400.5,171.1L409.9,176.3L419.3,177.7L428.7,170.9L438.1,165.3L447.5,190.3L456.9,185.7M287.6,130.6L297,140.1L306.4,154.7L315.8,154.6L325.2,150.6L334.6,111L344,88.4L353.4,63.7L362.8,70.5L372.2,105.8L381.6,135.7L391.1,150.6L400.5,165.3L409.9,176.5L419.3,205.2L428.7,175.8L438.1,165.9L447.5,170.3L456.9,183.2M287.6,138.6L297,151.6L306.4,169.8L315.8,176.7L325.2,171.7L334.6,133.6L344,105.4L353.4,67.1L362.8,93.9L372.2,123.2L381.6,167.4L391.1,165.7L400.5,196.3L409.9,199.6L419.3,190.8L428.7,172.8L438.1,165.9L447.5,189.7L456.9,204.8M287.6,130.3L297,139.4L306.4,147.1L315.8,152.9L325.2,144.7L334.6,112.8L344,89.4L353.4,68.7L362.8,70.1L372.2,105.8L381.6,136L391.1,153.4L400.5,164.8L409.9,186L419.3,192.2L428.7,174.3L438.1,190.3L447.5,192.8L456.9,195.4M287.6,138.7L297,146.8L306.4,160.3L315.8,152.8L325.2,145.1L334.6,113.8L344,89.5L353.4,69.9L362.8,82.2L372.2,118.3L381.6,151.9L391.1,169.4L400.5,194.2L409.9,189.8L419.3,205.8L428.7,171L438.1,176.5L447.5,184.5L456.9,178.6M287.6,161.1L297,171.7L306.4,171.5L315.8,194.6L325.2,200.3L334.6,178L344,140L353.4,99.3L362.8,114.1L372.2,148.9L381.6,192.8L391.1,221.2L400.5,244.8L409.9,252.5L419.3,244.4L428.7,239.9L438.1,233L447.5,225.6L456.9,236.5M287.6,130.5L297,143.3L306.4,148.1L315.8,153L325.2,144.9L334.6,113.6L344,84.8L353.4,72.8L362.8,70.5L372.2,105.8L381.6,135.4L391.1,153.7L400.5,169.4L409.9,176.8L419.3,177.8L428.7,169.7L438.1,160L447.5,162L456.9,177.5M287.6,129.7L297,139.4L306.4,146.3L315.8,151.9L325.2,143.5L334.6,108L344,79.9L353.4,63.7L362.8,69.3L372.2,102.9L381.6,134.1L391.1,151.5L400.5,164.8L409.9,168.6L419.3,166.1L428.7,165L438.1,160L447.5,162L456.9,174.5M287.6,147.2L297,153.1L306.4,159.1L315.8,159L325.2,147.8L334.6,110.9L344,96.5L353.4,72.6L362.8,88.2L372.2,128.8L381.6,153.5L391.1,170.5L400.5,185.5L409.9,208.4L419.3,204.8L428.7,197.3L438.1,197.8L447.5,189.3L456.9,217.9M287.6,147.2L297,167L306.4,179.4L315.8,194.5L325.2,180.4L334.6,161.6L344,113.1L353.4,84.9L362.8,112L372.2,142.7L381.6,155.6L391.1,171.6L400.5,190.9L409.9,227.3L419.3,218.4L428.7,196.3L438.1,218.1L447.5,217.1L456.9,224.1M287.6,130.4L297,139.8L306.4,147.2L315.8,153L325.2,153.8L334.6,111L344,81.5L353.4,80.7L362.8,83.9L372.2,110.5L381.6,142.6L391.1,153.8L400.5,178.4L409.9,197.8L419.3,184L428.7,192L438.1,175.9L447.5,178.1L456.9,178.1M287.6,130.6L297,140L306.4,147.2L315.8,152.7L325.2,144.7L334.6,111L344,84.3L353.4,64.5L362.8,71.2L372.2,122.4L381.6,148.5L391.1,188.8L400.5,196.2L409.9,208.8L419.3,186.8L428.7,192.6L438.1,165.9L447.5,167.8L456.9,178M287.6,158.8L297,171.6L306.4,183.5L315.8,166.4L325.2,179.2L334.6,150.9L344,115.2L353.4,85.4L362.8,94.2L372.2,127L381.6,187.3L391.1,215.7L400.5,221.2L409.9,224L419.3,240.8L428.7,236.3L438.1,226.1L447.5,203.6L456.9,210.8M287.6,150.2L297,159L306.4,164L315.8,184.3L325.2,199.6L334.6,176.1L344,136.1L353.4,85.9L362.8,100.5L372.2,138.4L381.6,191.1L391.1,210.5L400.5,211L409.9,220.1L419.3,216.2L428.7,234.9L438.1,228.2L447.5,220.8L456.9,222.1M287.6,130.4L297,144.8L306.4,155.8L315.8,165.6L325.2,156.3L334.6,144L344,86.6L353.4,76.1L362.8,72.4L372.2,106L381.6,135.7L391.1,154L400.5,172L409.9,185.1L419.3,178L428.7,170.3L438.1,168.6L447.5,186.5L456.9,197.1M287.6,158.7L297,171.5L306.4,184.4L315.8,196L325.2,199.6L334.6,177.6L344,136.8L353.4,98.5L362.8,112L372.2,148L381.6,191.9L391.1,220.5L400.5,241.5L409.9,246.5L419.3,243.7L428.7,243.1L438.1,231.8L447.5,225L456.9,229.4M287.6,150L297,168.4L306.4,167.1L315.8,176.9L325.2,179.6L334.6,158.2L344,119.5L353.4,87.7L362.8,101.3L372.2,138.7L381.6,161.4L391.1,179L400.5,208.4L409.9,233.8L419.3,242.2L428.7,252.4L438.1,229.9L447.5,221.8L456.9,227.7M287.6,135.2L297,144.9L306.4,147.3L315.8,152.9L325.2,157L334.6,110.6L344,81.5L353.4,65.3L362.8,86.7L372.2,123.3L381.6,142L391.1,179.7L400.5,183L409.9,216.1L419.3,224.9L428.7,199.8L438.1,195.5L447.5,187.5L456.9,181.9M287.6,160.6L297,171.9L306.4,184L315.8,194.5L325.2,199L334.6,176L344,132.5L353.4,93L362.8,112.5L372.2,148.3L381.6,193.7L391.1,217L400.5,232L409.9,231.3L419.3,227.6L428.7,222L438.1,216.8L447.5,210.8L456.9,230.2M287.6,157.9L297,169.9L306.4,173.5L315.8,191.8L325.2,174.4L334.6,146.8L344,136L353.4,75.7L362.8,91.4L372.2,141.2L381.6,178.2L391.1,191.6L400.5,203.4L409.9,189.2L419.3,190.3L428.7,203.2L438.1,197.7L447.5,203.2L456.9,211.7M287.6,161L297,171.9L306.4,183.9L315.8,194.7L325.2,189.1L334.6,176.5L344,137.7L353.4,100L362.8,116L372.2,152.5L381.6,199L391.1,225.3L400.5,245.4L409.9,244.5L419.3,244.9L428.7,242.3L438.1,229.3L447.5,226.8L456.9,243M287.6,161.5L297,171.9L306.4,181.2L315.8,188L325.2,199.3L334.6,176.3L344,128.3L353.4,97.9L362.8,112.5L372.2,150.4L381.6,195.9L391.1,219.3L400.5,237.6L409.9,243L419.3,236.8L428.7,235.2L438.1,229.3L447.5,226.3L456.9,229.4M287.6,160.6L297,170L306.4,183.8L315.8,194.4L325.2,186L334.6,175.9L344,116.8L353.4,82L362.8,98.8L372.2,139.6L381.6,180L391.1,181.8L400.5,197.3L409.9,227.4L419.3,239L428.7,218.6L438.1,221.1L447.5,221.4L456.9,229.6M287.6,160.8L297,171.9L306.4,180.7L315.8,189.5L325.2,198L334.6,176.3L344,124.2L353.4,89.9L362.8,111.9L372.2,148.1L381.6,180.1L391.1,197.7L400.5,230.9L409.9,224.9L419.3,235.3L428.7,237.6L438.1,229L447.5,192.2L456.9,226.5M287.6,130.1L297,138.8L306.4,146.8L315.8,152.5L325.2,144.6L334.6,109.3L344,79.3L353.4,62.6L362.8,70L372.2,104.9L381.6,133.4L391.1,150L400.5,161.9L409.9,165.6L419.3,167.1L428.7,168.9L438.1,164.3L447.5,164.2L456.9,175.8M287.6,155.4L297,160.1L306.4,180L315.8,194.5L325.2,182.8L334.6,165.4L344,121.9L353.4,74.8L362.8,93.3L372.2,142.9L381.6,173.9L391.1,191.7L400.5,230.8L409.9,218.5L419.3,211.1L428.7,210.2L438.1,218.4L447.5,222.1L456.9,217.1M287.6,161.1L297,171.8L306.4,183.6L315.8,196L325.2,201.9L334.6,181L344,140L353.4,98.7L362.8,113.8L372.2,150.5L381.6,196.2L391.1,229.1L400.5,248.4L409.9,250.7L419.3,250.8L428.7,259.5L438.1,233.3L447.5,226.5L456.9,240.2M287.6,138.1L297,146.6L306.4,160.9L315.8,172.3L325.2,183.8L334.6,164.5L344,90.1L353.4,76.9L362.8,78L372.2,105.7L381.6,141.7L391.1,163.4L400.5,180.5L409.9,176.9L419.3,177.6L428.7,172.8L438.1,165.7L447.5,167.8L456.9,186.5M287.6,130.6L297,139.9L306.4,147.5L315.8,164.7L325.2,158.4L334.6,117L344,90L353.4,64.3L362.8,70.2L372.2,105.9L381.6,136L391.1,154.1L400.5,173.1L409.9,176.3L419.3,177.5L428.7,174.9L438.1,165.1L447.5,165.7L456.9,177.8M287.6,143.5L297,146.1L306.4,153L315.8,153L325.2,159.8L334.6,134.8L344,102.3L353.4,77.9L362.8,86L372.2,118.8L381.6,151.7L391.1,183.8L400.5,181.2L409.9,176.9L419.3,180.4L428.7,193.3L438.1,184.5L447.5,176.9L456.9,195.3M287.6,137.4L297,152.7L306.4,163.3L315.8,180L325.2,199.2L334.6,160.7L344,120.7L353.4,84.8L362.8,72.5L372.2,114.4L381.6,151.6L391.1,187.8L400.5,199.3L409.9,195.3L419.3,216.4L428.7,212.1L438.1,194.9L447.5,190.2L456.9,202.3M287.6,160.5L297,172.3L306.4,184.2L315.8,195.8L325.2,204.5L334.6,176.5L344,137.5L353.4,97.6L362.8,112.1L372.2,148L381.6,195L391.1,234L400.5,250.5L409.9,253.3L419.3,244.7L428.7,256.8L438.1,234.7L447.5,228.5L456.9,236.4M287.6,130.6L297,139.6L306.4,147.1L315.8,153L325.2,145L334.6,123L344,81.5L353.4,64.5L362.8,73.3L372.2,106L381.6,135.9L391.1,153.2L400.5,162.6L409.9,176L419.3,174.5L428.7,168.1L438.1,165.3L447.5,164.6L456.9,174.4M287.6,130.5L297,140L306.4,147.6L315.8,153L325.2,145L334.6,110.7L344,80.8L353.4,64.3L362.8,70.4L372.2,113.3L381.6,140.6L391.1,153.6L400.5,171.7L409.9,175.5L419.3,183.2L428.7,168.9L438.1,163.4L447.5,164.4L456.9,177.1M287.6,134.8L297,153.7L306.4,168.3L315.8,163.9L325.2,160.4L334.6,112.1L344,81.2L353.4,70.9L362.8,82.8L372.2,111.7L381.6,138.5L391.1,171.2L400.5,188.7L409.9,184.7L419.3,189.2L428.7,180.4L438.1,168.7L447.5,166.5L456.9,189M287.6,159.6L297,170.1L306.4,177.2L315.8,186.8L325.2,170.1L334.6,149.3L344,120.3L353.4,86.8L362.8,103.2L372.2,130.9L381.6,174.2L391.1,177.9L400.5,206.8L409.9,210.1L419.3,199.2L428.7,200.1L438.1,202.7L447.5,197.2L456.9,219.5M287.6,162.3L297,172.4L306.4,186.4L315.8,195.5L325.2,204L334.6,178.7L344,139.4L353.4,97.8L362.8,112.2L372.2,148.2L381.6,192.6L391.1,222.9L400.5,242.7L409.9,248.2L419.3,244.3L428.7,237.7L438.1,229.5L447.5,226.4L456.9,243M287.6,140.8L297,141.1L306.4,153.1L315.8,153L325.2,145L334.6,111L344,100.2L353.4,68.6L362.8,82.2L372.2,117.1L381.6,151.7L391.1,172.8L400.5,195.7L409.9,178.7L419.3,185.2L428.7,185.5L438.1,171L447.5,178.5L456.9,178M287.6,160.5L297,171.7L306.4,180.4L315.8,184.7L325.2,199L334.6,134L344,130.2L353.4,97.6L362.8,103.5L372.2,148.1L381.6,191L391.1,217.1L400.5,203.3L409.9,215.4L419.3,222.1L428.7,217.1L438.1,210.6L447.5,209.4L456.9,188.7M287.6,160.6L297,171.5L306.4,183.5L315.8,194.7L325.2,203.7L334.6,176.3L344,137.9L353.4,97.9L362.8,112L372.2,139.2L381.6,191.3L391.1,206.6L400.5,237L409.9,244.5L419.3,242.1L428.7,235.3L438.1,229.3L447.5,225.2L456.9,232M287.6,161.3L297,171.6L306.4,184.4L315.8,195.5L325.2,199.2L334.6,176L344,136.1L353.4,92.1L362.8,113L372.2,150.4L381.6,191.6L391.1,218.8L400.5,248.1L409.9,251.7L419.3,243.2L428.7,225.9L438.1,212.5L447.5,225.5L456.9,232.9M287.6,160.7L297,171.6L306.4,183.6L315.8,194.6L325.2,204L334.6,176.5L344,136.2L353.4,98.7L362.8,115.7L372.2,148.8L381.6,198.7L391.1,234L400.5,237.3L409.9,253.9L419.3,242.5L428.7,242.5L438.1,229.1L447.5,214.6L456.9,230.6M287.6,161.2L297,172.1L306.4,184L315.8,194.6L325.2,201.2L334.6,177.2L344,136.7L353.4,97.7L362.8,112.4L372.2,147.4L381.6,191.2L391.1,217L400.5,242.6L409.9,244.3L419.3,242.9L428.7,240.4L438.1,231.5L447.5,226.8L456.9,234.8M287.6,130.6L297,156.3L306.4,148.2L315.8,160L325.2,152.1L334.6,110.6L344,81L353.4,64.5L362.8,69.9L372.2,105.6L381.6,136.9L391.1,153.9L400.5,172L409.9,176L419.3,175.9L428.7,169.9L438.1,165.2L447.5,166.5L456.9,178M287.6,145.7L297,147.7L306.4,147.3L315.8,154.3L325.2,144.9L334.6,112.5L344,98.6L353.4,74.6L362.8,73.9L372.2,107.1L381.6,143.1L391.1,174.7L400.5,178.1L409.9,177L419.3,192.8L428.7,182.7L438.1,177.1L447.5,178.5L456.9,178M287.6,161.8L297,172.8L306.4,185.5L315.8,197.9L325.2,208.3L334.6,180.6L344,139.4L353.4,100L362.8,116L372.2,152.5L381.6,193.2L391.1,231.8L400.5,252.5L409.9,258.2L419.3,252.6L428.7,258.2L438.1,233.3L447.5,228.5L456.9,242.7M287.6,135.9L297,154.1L306.4,175.4L315.8,183.1L325.2,200L334.6,163.3L344,120.8L353.4,82.8L362.8,93.8L372.2,130L381.6,156.1L391.1,177.1L400.5,236L409.9,232.1L419.3,242L428.7,212L438.1,208.6L447.5,215.7L456.9,217.5M287.6,140L297,155.2L306.4,148.5L315.8,152.8L325.2,144.9L334.6,111L344,93.5L353.4,77.9L362.8,76L372.2,130L381.6,158.6L391.1,153.9L400.5,186.3L409.9,192.9L419.3,194.1L428.7,170.8L438.1,166L447.5,170.7L456.9,181.7M287.6,160.5L297,169.4L306.4,183.8L315.8,194.6L325.2,199.3L334.6,171.9L344,113.7L353.4,72.2L362.8,94.2L372.2,129.5L381.6,174.2L391.1,214L400.5,208.5L409.9,198.7L419.3,218.7L428.7,224.6L438.1,214.2L447.5,206.7L456.9,199.6M287.6,160.6L297,169.5L306.4,183.5L315.8,194.5L325.2,199.3L334.6,177.2L344,136.7L353.4,97.8L362.8,112.6L372.2,148L381.6,190.6L391.1,217.1L400.5,238L409.9,247L419.3,251L428.7,237.2L438.1,229L447.5,202.5L456.9,212.3M287.6,147L297,163.1L306.4,180.2L315.8,194.8L325.2,199.5L334.6,175.9L344,128.7L353.4,96L362.8,109L372.2,137.5L381.6,163.8L391.1,208.4L400.5,214.7L409.9,220.8L419.3,234.8L428.7,225.1L438.1,229L447.5,205.6L456.9,223M287.6,160.6L297,171.9L306.4,183.7L315.8,194.5L325.2,202.5L334.6,176.5L344,136.6L353.4,98.2L362.8,112.6L372.2,149.4L381.6,195.2L391.1,223.1L400.5,248.2L409.9,247.3L419.3,242.6L428.7,241.4L438.1,229.3L447.5,225.8L456.9,232.6M287.6,139.8L297,157.5L306.4,175.3L315.8,192.7L325.2,189.9L334.6,152.6L344,125.8L353.4,97.5L362.8,93L372.2,123.6L381.6,166.4L391.1,166.4L400.5,200.1L409.9,233.8L419.3,221L428.7,225.9L438.1,209.8L447.5,219.4L456.9,229.1M287.6,161.2L297,172.1L306.4,183.7L315.8,196.2L325.2,199.7L334.6,176.5L344,139.8L353.4,99.3L362.8,112.4L372.2,148.6L381.6,191.2L391.1,217.4L400.5,225.2L409.9,243.1L419.3,228.6L428.7,237.2L438.1,229.4L447.5,225.9L456.9,244.9M287.6,129.5L297,138.8L306.4,146.9L315.8,152.4L325.2,143.8L334.6,108L344,78.7L353.4,62.4L362.8,68.6L372.2,102.9L381.6,132.3L391.1,152.2L400.5,168L409.9,163.3L419.3,172.5L428.7,169.9L438.1,164.7L447.5,162.6L456.9,174M287.6,158.1L297,171.5L306.4,183.5L315.8,194.7L325.2,199.3L334.6,155.5L344,133.3L353.4,93.1L362.8,107.5L372.2,148.2L381.6,191L391.1,218.4L400.5,235L409.9,228.2L419.3,216.6L428.7,213.1L438.1,186.6L447.5,196.6L456.9,208.5M287.6,129.4L297,138.8L306.4,146.3L315.8,152.5L325.2,143.6L334.6,108.9L344,78.7L353.4,62.4L362.8,68.1L372.2,103.8L381.6,135.4L391.1,153.5L400.5,160L409.9,164.2L419.3,163.9L428.7,165L438.1,161.9L447.5,165.7L456.9,175.6M287.6,160.5L297,171.8L306.4,183.5L315.8,195L325.2,199L334.6,176.1L344,136L353.4,88L362.8,102.6L372.2,136L381.6,169.8L391.1,180.7L400.5,198.1L409.9,197.1L419.3,226.4L428.7,192.4L438.1,200.1L447.5,195.9L456.9,195.7M287.6,137L297,149.6L306.4,156.4L315.8,169.2L325.2,173.1L334.6,129.9L344,96.2L353.4,85.5L362.8,83.9L372.2,134.2L381.6,156.8L391.1,166.4L400.5,171.6L409.9,176.6L419.3,175.5L428.7,170.8L438.1,178.6L447.5,179L456.9,183.3M287.6,130.5L297,149L306.4,154.4L315.8,153L325.2,150.4L334.6,135.2L344,84.4L353.4,64.7L362.8,70.2L372.2,104.8L381.6,139.5L391.1,202.1L400.5,186.6L409.9,175.7L419.3,190.2L428.7,192.4L438.1,182.8L447.5,192.8L456.9,186M287.6,138.1L297,148.5L306.4,151.9L315.8,161.5L325.2,154.7L334.6,110.6L344,81.5L353.4,64.2L362.8,70.1L372.2,104.9L381.6,136L391.1,154L400.5,171.9L409.9,195.5L419.3,199.4L428.7,181.8L438.1,164.9L447.5,167.9L456.9,178M287.6,129.4L297,138.8L306.4,146.8L315.8,152.5L325.2,143.6L334.6,110.2L344,81.1L353.4,64.5L362.8,69.8L372.2,104.6L381.6,135L391.1,152.6L400.5,165.9L409.9,167L419.3,164L428.7,165L438.1,160L447.5,162.5L456.9,174M287.6,160.7L297,160.9L306.4,169.9L315.8,192.4L325.2,197.1L334.6,174.1L344,132.2L353.4,95.9L362.8,100.9L372.2,148.1L381.6,179.8L391.1,207L400.5,237.4L409.9,245.7L419.3,242.4L428.7,237.1L438.1,220.5L447.5,213.3L456.9,220M287.6,156.2L297,168.2L306.4,175.2L315.8,191.4L325.2,192.5L334.6,165.9L344,120L353.4,73.8L362.8,98.7L372.2,143.1L381.6,175.6L391.1,198.6L400.5,223.1L409.9,215.2L419.3,230.8L428.7,233.6L438.1,229L447.5,225.1L456.9,205.3M287.6,160.5L297,171.5L306.4,181.6L315.8,196.1L325.2,199.3L334.6,160.5L344,135.9L353.4,84.5L362.8,112.1L372.2,148.3L381.6,192.2L391.1,219.3L400.5,236.6L409.9,223.6L419.3,219L428.7,227.4L438.1,216.4L447.5,218.7L456.9,214.6M287.6,132.8L297,140L306.4,147.1L315.8,164.6L325.2,145L334.6,110.8L344,81.3L353.4,68.7L362.8,70.5L372.2,111.3L381.6,145L391.1,153.9L400.5,172.7L409.9,175.9L419.3,177.7L428.7,180.4L438.1,169.7L447.5,166.4L456.9,177.9M287.6,156.9L297,163.1L306.4,183.6L315.8,194.9L325.2,200.5L334.6,177.2L344,136.8L353.4,97.8L362.8,112.8L372.2,149.9L381.6,194.4L391.1,222.5L400.5,236.9L409.9,245.7L419.3,242.2L428.7,237.3L438.1,229.6L447.5,225.7L456.9,238.2M287.6,130.1L297,139.5L306.4,146.8L315.8,153L325.2,144.9L334.6,110L344,79.6L353.4,64.2L362.8,69.3L372.2,105.1L381.6,135L391.1,153.8L400.5,166.8L409.9,173.7L419.3,174.6L428.7,170.4L438.1,166L447.5,166.1L456.9,177M287.6,131.2L297,140L306.4,147.2L315.8,152.7L325.2,150.4L334.6,133.5L344,98.3L353.4,80.5L362.8,85.5L372.2,114L381.6,136L391.1,170.8L400.5,198.8L409.9,215.8L419.3,193.4L428.7,182.6L438.1,165.9L447.5,184.9L456.9,199.5M287.6,130.6L297,146.2L306.4,147.3L315.8,160.2L325.2,153.2L334.6,110.9L344,80.8L353.4,64.1L362.8,70.4L372.2,105.3L381.6,136L391.1,168L400.5,186.7L409.9,175.6L419.3,168.2L428.7,170.9L438.1,182.3L447.5,169.4L456.9,185.1M287.6,130.6L297,139.8L306.4,147.3L315.8,158.3L325.2,145L334.6,122.3L344,80.9L353.4,64.4L362.8,70.3L372.2,117.2L381.6,136L391.1,153.2L400.5,172.9L409.9,171.4L419.3,175.5L428.7,168.6L438.1,165.9L447.5,166.1L456.9,177.9M287.6,143.5L297,149.2L306.4,147.3L315.8,153L325.2,155.9L334.6,110.8L344,104.1L353.4,70.5L362.8,72.2L372.2,119.5L381.6,148.8L391.1,154L400.5,184L409.9,191.3L419.3,201.9L428.7,172.3L438.1,165.6L447.5,169.9L456.9,178M287.6,130.3L297,139.2L306.4,147.1L315.8,152.5L325.2,144.2L334.6,108L344,78.7L353.4,62.5L362.8,69.4L372.2,104.8L381.6,135.5L391.1,150L400.5,162L409.9,167L419.3,163L428.7,166.2L438.1,160L447.5,164.1L456.9,175.4M287.6,139.7L297,160.2L306.4,161.9L315.8,161.5L325.2,158.1L334.6,119.6L344,81.5L353.4,67.5L362.8,76.4L372.2,107.8L381.6,138.8L391.1,154L400.5,178.8L409.9,176.6L419.3,204.3L428.7,192.3L438.1,195.8L447.5,171.8L456.9,189.7M287.6,130.6L297,151.8L306.4,148.1L315.8,171.6L325.2,164.7L334.6,116.2L344,100.1L353.4,75.4L362.8,74.9L372.2,108L381.6,151.3L391.1,154L400.5,172L409.9,212L419.3,194.2L428.7,194.6L438.1,192.8L447.5,199.8L456.9,209.8M287.6,130.6L297,154.2L306.4,160.1L315.8,153L325.2,155.2L334.6,148.9L344,93.6L353.4,74.5L362.8,72L372.2,106L381.6,140.5L391.1,168.2L400.5,188.8L409.9,193.5L419.3,223.7L428.7,184.2L438.1,165.5L447.5,171.3L456.9,185.9M287.6,130.4L297,140L306.4,152L315.8,177.1L325.2,145L334.6,110.6L344,81.3L353.4,64.4L362.8,70.5L372.2,105.8L381.6,134.8L391.1,153.4L400.5,173.1L409.9,189.5L419.3,178L428.7,178.3L438.1,175.8L447.5,166.5L456.9,178M287.6,140L297,143.3L306.4,153.1L315.8,157.1L325.2,168.5L334.6,110.9L344,81.4L353.4,72.6L362.8,85.1L372.2,119.5L381.6,161.1L391.1,159.3L400.5,188.7L409.9,178.7L419.3,177.6L428.7,183.3L438.1,169.9L447.5,172.1L456.9,194.4M287.6,130.6L297,146.3L306.4,157.2L315.8,153L325.2,144.7L334.6,110.9L344,80.1L353.4,64.3L362.8,70.5L372.2,109.3L381.6,143.9L391.1,177.1L400.5,179.7L409.9,200.7L419.3,197.4L428.7,189.1L438.1,173.1L447.5,182.4L456.9,178M287.6,130.5L297,139.9L306.4,147.3L315.8,155.4L325.2,158.1L334.6,147.1L344,117.1L353.4,78.1L362.8,76.7L372.2,105.9L381.6,142.8L391.1,166.6L400.5,176.2L409.9,178.5L419.3,178.8L428.7,168.1L438.1,165.3L447.5,166.5L456.9,178M287.6,160.9L297,173.3L306.4,185.6L315.8,196.6L325.2,201.1L334.6,175.3L344,135.5L353.4,90.9L362.8,111L372.2,148.8L381.6,194.3L391.1,225.6L400.5,240L409.9,249.6L419.3,243.8L428.7,225.1L438.1,229L447.5,225.1L456.9,218M287.6,139L297,140.4L306.4,158.2L315.8,161.8L325.2,145L334.6,110.2L344,81.5L353.4,69.3L362.8,70.3L372.2,105.8L381.6,144.4L391.1,154L400.5,175.9L409.9,173.5L419.3,174.3L428.7,171L438.1,165.3L447.5,165.1L456.9,176.2M287.6,158.5L297,171.5L306.4,184.1L315.8,194.5L325.2,201.2L334.6,176.7L344,136L353.4,97.6L362.8,113L372.2,149.9L381.6,193.2L391.1,217.7L400.5,237.7L409.9,243.6L419.3,242.2L428.7,237.3L438.1,230.7L447.5,220.9L456.9,225.4M287.6,160.5L297,167.3L306.4,177.9L315.8,194L325.2,195.4L334.6,171.5L344,131L353.4,94.6L362.8,105.1L372.2,144.3L381.6,165.8L391.1,190.7L400.5,198L409.9,215.6L419.3,212.3L428.7,222.8L438.1,229L447.5,205.5L456.9,206.9M287.6,160.5L297,171.3L306.4,179.2L315.8,194.5L325.2,199.1L334.6,176L344,129.8L353.4,83.6L362.8,94.9L372.2,135.1L381.6,167.7L391.1,206.8L400.5,210L409.9,224L419.3,236.3L428.7,237.5L438.1,229.1L447.5,225.5L456.9,228.7M287.6,129.4L297,139L306.4,146.3L315.8,152.4L325.2,144.6L334.6,108.8L344,78.7L353.4,62.6L362.8,69L372.2,105.4L381.6,136L391.1,153.5L400.5,167.5L409.9,169.1L419.3,167.4L428.7,165L438.1,160L447.5,162L456.9,174M287.6,129.4L297,139.3L306.4,147L315.8,152.5L325.2,144.5L334.6,109.2L344,78.7L353.4,62.4L362.8,68.4L372.2,103.6L381.6,133L391.1,150L400.5,167.1L409.9,167.5L419.3,163.6L428.7,168.3L438.1,160L447.5,162.2L456.9,176.9M287.6,130.6L297,140L306.4,147.3L315.8,152.9L325.2,144.9L334.6,110.8L344,86.2L353.4,68.8L362.8,71.4L372.2,105.9L381.6,169.7L391.1,170.7L400.5,199.8L409.9,177L419.3,177.2L428.7,182.7L438.1,165.8L447.5,165.8L456.9,177.8M287.6,157.8L297,167.1L306.4,178.4L315.8,194.5L325.2,199.7L334.6,169.1L344,104.2L353.4,76.4L362.8,102.6L372.2,133.3L381.6,165.7L391.1,188L400.5,234.5L409.9,234.2L419.3,224L428.7,209.1L438.1,192.5L447.5,225.2L456.9,226.3M287.6,162.8L297,172.4L306.4,183.6L315.8,194.8L325.2,202.5L334.6,181L344,140L353.4,98.5L362.8,113.6L372.2,149L381.6,192.2L391.1,223.1L400.5,245.6L409.9,248L419.3,253.5L428.7,253.1L438.1,233L447.5,226.5L456.9,239.4M287.6,159.3L297,171.7L306.4,183.5L315.8,194.6L325.2,200.4L334.6,178.6L344,136.4L353.4,96.2L362.8,112.1L372.2,149.1L381.6,191.5L391.1,231.4L400.5,236L409.9,247.4L419.3,247.9L428.7,250.2L438.1,229.3L447.5,226.3L456.9,237.7M287.6,160.8L297,171.7L306.4,183.5L315.8,187.5L325.2,197.4L334.6,156L344,134.2L353.4,97.5L362.8,98.4L372.2,145.1L381.6,191.7L391.1,217.8L400.5,222.8L409.9,227.5L419.3,242.1L428.7,220.5L438.1,215.9L447.5,225.1L456.9,229M287.6,162.8L297,174L306.4,185.1L315.8,195.1L325.2,202.4L334.6,176.4L344,137.4L353.4,100L362.8,112.2L372.2,149.3L381.6,196.7L391.1,226.5L400.5,251.3L409.9,258.2L419.3,254L428.7,259.5L438.1,234.7L447.5,228.4L456.9,236.3M287.6,142.7L297,152.7L306.4,172.7L315.8,183.9L325.2,185.3L334.6,136.1L344,96.9L353.4,65.1L362.8,71.7L372.2,114L381.6,136L391.1,155.1L400.5,210.3L409.9,204.6L419.3,180.9L428.7,170.9L438.1,172L447.5,189.1L456.9,194.9M287.6,161.4L297,174L306.4,185.9L315.8,198.5L325.2,208.3L334.6,180.7L344,138.6L353.4,99.2L362.8,116L372.2,152L381.6,199L391.1,234L400.5,252.5L409.9,258.2L419.3,254L428.7,259.5L438.1,234.7L447.5,228.5L456.9,244.9M287.6,152.6L297,162.9L306.4,177L315.8,176.4L325.2,182.3L334.6,150.8L344,136L353.4,97.5L362.8,112.6L372.2,150.5L381.6,192.1L391.1,223.7L400.5,237.3L409.9,243.5L419.3,227L428.7,223.8L438.1,229.1L447.5,225L456.9,221.2M287.6,130.5L297,139.7L306.4,148.6L315.8,163.3L325.2,150.2L334.6,110.7L344,81.3L353.4,75.6L362.8,70.4L372.2,105.8L381.6,135.7L391.1,158.5L400.5,170.8L409.9,176.9L419.3,176.8L428.7,170.6L438.1,164.6L447.5,166.5L456.9,177.9M287.6,161.3L297,171.9L306.4,183.6L315.8,194.5L325.2,205.2L334.6,178.7L344,136.3L353.4,97.6L362.8,109.8L372.2,148.1L381.6,186.8L391.1,206L400.5,235.3L409.9,244.9L419.3,243.9L428.7,240.4L438.1,229.2L447.5,197.8L456.9,214.4M287.6,160.5L297,158.6L306.4,174.2L315.8,184.8L325.2,198L334.6,170.9L344,108.5L353.4,80.9L362.8,96.3L372.2,119.2L381.6,167.5L391.1,196L400.5,236L409.9,237.6L419.3,227.1L428.7,223.6L438.1,219.1L447.5,225L456.9,217.3M287.6,136.4L297,162.5L306.4,154.9L315.8,154.4L325.2,146.1L334.6,124.8L344,87.2L353.4,75L362.8,78L372.2,125.6L381.6,159.7L391.1,154L400.5,176.4L409.9,176.7L419.3,178.6L428.7,177.7L438.1,205.6L447.5,187.6L456.9,178M287.6,160.5L297,172.1L306.4,183.5L315.8,185.6L325.2,195.2L334.6,152.8L344,113.5L353.4,84.4L362.8,101.4L372.2,127.7L381.6,151.8L391.1,212.4L400.5,224.5L409.9,232.7L419.3,242L428.7,237.3L438.1,221L447.5,214.1L456.9,230.5M287.6,162.3L297,171.5L306.4,183.8L315.8,194.8L325.2,190.6L334.6,176.2L344,137L353.4,98.2L362.8,110.6L372.2,148.1L381.6,191.9L391.1,218.6L400.5,239.3L409.9,248.1L419.3,252L428.7,249.2L438.1,234.7L447.5,228.1L456.9,238.4M287.6,160.6L297,157.5L306.4,159.7L315.8,194.5L325.2,199.3L334.6,176.2L344,136L353.4,97.5L362.8,102.3L372.2,138.3L381.6,169.6L391.1,217L400.5,236.2L409.9,243.1L419.3,242.1L428.7,233.5L438.1,208.4L447.5,225.1L456.9,229.8M287.6,160.7L297,171.7L306.4,183.9L315.8,194.5L325.2,200.7L334.6,177.1L344,137L353.4,93.8L362.8,112L372.2,148.2L381.6,191.8L391.1,188.2L400.5,194.5L409.9,224.6L419.3,218.9L428.7,229.5L438.1,223.1L447.5,225.1L456.9,225M287.6,148.7L297,149.7L306.4,183.9L315.8,194.2L325.2,192.5L334.6,140.1L344,105.3L353.4,84.9L362.8,104.3L372.2,148L381.6,178.7L391.1,212.4L400.5,236.6L409.9,236.1L419.3,233.4L428.7,202.2L438.1,197L447.5,188.6L456.9,217.2M287.6,136.5L297,147.2L306.4,153.6L315.8,153L325.2,161.9L334.6,121L344,81L353.4,64.2L362.8,70L372.2,110L381.6,152.2L391.1,185.4L400.5,219.7L409.9,193.3L419.3,176L428.7,169.9L438.1,166L447.5,163.6L456.9,176.8M287.6,130.5L297,150.5L306.4,169.9L315.8,157.8L325.2,145L334.6,111.5L344,91.7L353.4,71.7L362.8,82.4L372.2,122.6L381.6,163.6L391.1,198.4L400.5,199.9L409.9,187.5L419.3,185.1L428.7,210.3L438.1,199.6L447.5,194.3L456.9,207.9M287.6,142.7L297,157.8L306.4,171.2L315.8,171.3L325.2,148.2L334.6,121.7L344,88.3L353.4,72.2L362.8,93.5L372.2,132.3L381.6,150L391.1,163.7L400.5,192L409.9,216.6L419.3,208.5L428.7,202.5L438.1,171.9L447.5,174L456.9,181.9M287.6,129.6L297,138.8L306.4,146.7L315.8,152.1L325.2,144.7L334.6,110.3L344,80.3L353.4,64.2L362.8,68.7L372.2,105.3L381.6,133.6L391.1,153L400.5,164.8L409.9,163.2L419.3,163L428.7,165L438.1,163.2L447.5,162L456.9,177.5M287.6,132.6L297,153.8L306.4,147.1L315.8,169.5L325.2,162.4L334.6,126.7L344,96.4L353.4,64.5L362.8,81.6L372.2,119.1L381.6,152.9L391.1,160.9L400.5,171.7L409.9,183.6L419.3,197.9L428.7,188.6L438.1,176.7L447.5,169.4L456.9,191.4M287.6,148.7L297,140L306.4,150.5L315.8,155.3L325.2,163.9L334.6,122.6L344,81.2L353.4,64.1L362.8,70.4L372.2,106L381.6,135.9L391.1,153.8L400.5,168.9L409.9,171.2L419.3,174.8L428.7,170.1L438.1,165.8L447.5,165.8L456.9,189.7"/>
<polyline fill="none" stroke="#fe0404" stroke-width="2.75" stroke-dasharray="22.5 9.05" stroke-linejoin="miter" points="287.8,102.8 297,119.8 306.6,136.8 316,140 323.5,141.2 334.4,113 343.8,73.5 353.1,34.4 363,88.3 372.3,94.5 381.6,132 391,162.5 400.8,180.6 410.4,174 419.4,155.5 428.8,131 438.3,116.5 447.4,168 457,157"/>
<polyline fill="none" stroke="#fe0404" stroke-width="2.75" stroke-dasharray="22.5 9.05" stroke-linejoin="miter" points="287.8,212.7 296.7,215.3 307,228.5 315.7,225.8 325.3,235.5 334.4,200 343.8,137 353.3,99.5 362.7,154 372.5,172.5 381.6,205 391,260 400.8,266.5 409.4,302 419.4,277.5 428.8,250 437.7,234.7 447.5,265.5 457,296"/>
</g>
<g>
<polygon fill="#0a0a0a" stroke="#0a0a0a" stroke-width="0.8" stroke-linejoin="round" points="492.6,126.2 502,131.1 511.4,140 520.8,137.8 530.2,128 539.6,95.1 549.1,68.8 558.5,56 567.9,71.6 577.3,105 586.7,136.2 596.1,154.4 605.5,159.5 614.9,162.5 624.3,161.7 633.8,157.2 643.2,166.3 652.6,176.5 662,185.1 662,226.4 652.6,217.5 643.2,208.2 633.8,200.8 624.3,199.3 614.9,201 605.5,207 596.1,207.6 586.7,186.3 577.3,144 567.9,104.4 558.5,78.5 549.1,102.7 539.6,140.4 530.2,175.5 520.8,179.7 511.4,179 502,165.9 492.6,152.8"/>
<path fill="none" stroke="#0a0a0a" stroke-width="0.95" stroke-linejoin="round" d="M492.6,124L502,126.9L511.4,135.7L520.8,131.6L530.2,119.5L539.6,87.2L549.1,64.5L558.5,54L567.9,67.6L577.3,98.5L586.7,127.6L596.1,144.4L605.5,146L614.9,147.9L624.3,143.5L633.8,145.9L643.2,160L652.6,171.8L662,179.8M492.6,155.2L502,170.5L511.4,183.9L520.8,195.8L530.2,184.3L539.6,149L549.1,108L558.5,80.7L567.9,109.5L577.3,152L586.7,196L596.1,232L605.5,244.4L614.9,236L624.3,230L633.8,222.2L643.2,224.5L652.6,237.4L662,243.8M492.6,135.1L502,145.7L511.4,155.6L520.8,142.8L530.2,123.2L539.6,107.4L549.1,80.7L558.5,71.4L567.9,104.3L577.3,139.3L586.7,175.1L596.1,191.4L605.5,184.6L614.9,172.6L624.3,157.2L633.8,164L643.2,182.6L652.6,191.3L662,200.5M492.6,129.4L502,140.5L511.4,155.9L520.8,173.2L530.2,140.1L539.6,109.9L549.1,70.2L558.5,57L567.9,92.8L577.3,116.6L586.7,144.9L596.1,154L605.5,173.6L614.9,167.2L624.3,158.1L633.8,155.1L643.2,177.3L652.6,184.6L662,193.8M492.6,127.7L502,132.8L511.4,137L520.8,139.4L530.2,145.4L539.6,109.5L549.1,88.9L558.5,68L567.9,84.3L577.3,109.3L586.7,146.7L596.1,150.5L605.5,174.3L614.9,161.2L624.3,158.6L633.8,152.9L643.2,162.2L652.6,175.6L662,182.3M492.6,133.6L502,144.2L511.4,163.6L520.8,158.6L530.2,138.7L539.6,118.4L549.1,90.6L558.5,77.8L567.9,106.1L577.3,133.1L586.7,180.7L596.1,189.4L605.5,169.7L614.9,179.9L624.3,188.5L633.8,153.2L643.2,185.5L652.6,183.7L662,212.3M492.6,125.8L502,128.1L511.4,137L520.8,132.3L530.2,120.4L539.6,87L549.1,65.3L558.5,54.5L567.9,69.3L577.3,101.7L586.7,130.2L596.1,147.9L605.5,154.4L614.9,157.1L624.3,149.2L633.8,145.9L643.2,161.4L652.6,171.6L662,179.2M492.6,126L502,128.7L511.4,137L520.8,132.3L530.2,122.4L539.6,94.4L549.1,70.5L558.5,62.9L567.9,76.3L577.3,111.5L586.7,137.4L596.1,148L605.5,157.9L614.9,170.1L624.3,156.3L633.8,151.5L643.2,160.7L652.6,172L662,180.3M492.6,153.6L502,169.2L511.4,182.1L520.8,183.5L530.2,180.9L539.6,145L549.1,104.5L558.5,71.2L567.9,106L577.3,147.2L586.7,188.6L596.1,197.9L605.5,195.8L614.9,204L624.3,201.1L633.8,194.4L643.2,207L652.6,222.3L662,234.9M492.6,135.1L502,146.3L511.4,158.7L520.8,142.2L530.2,126.2L539.6,94.7L549.1,79.2L558.5,60.2L567.9,72.1L577.3,119.3L586.7,170L596.1,165L605.5,167.9L614.9,181.8L624.3,171.8L633.8,178.1L643.2,165.8L652.6,178.8L662,197.8M492.6,125.8L502,128.8L511.4,142.5L520.8,147.7L530.2,147.9L539.6,113.6L549.1,72.5L558.5,57.1L567.9,69.9L577.3,110.3L586.7,130.4L596.1,148.7L605.5,161.2L614.9,176.6L624.3,162.6L633.8,162.7L643.2,162.5L652.6,184.9L662,186.5M492.6,126.6L502,129L511.4,150.8L520.8,134.9L530.2,131L539.6,108.4L549.1,67L558.5,55.3L567.9,70L577.3,101.5L586.7,130.1L596.1,148L605.5,160.7L614.9,162.8L624.3,159L633.8,167.2L643.2,175.5L652.6,203L662,191M492.6,149.3L502,161.7L511.4,182.2L520.8,183L530.2,180.1L539.6,141.7L549.1,94.8L558.5,77L567.9,86.8L577.3,141.7L586.7,161.8L596.1,186.9L605.5,195.9L614.9,188.7L624.3,185.6L633.8,203.5L643.2,215.6L652.6,224.2L662,230.3M492.6,134.1L502,147.9L511.4,159.9L520.8,163.3L530.2,135.5L539.6,90.5L549.1,66.8L558.5,56L567.9,70L577.3,105.1L586.7,130.3L596.1,148L605.5,167.3L614.9,167.4L624.3,153.6L633.8,152.6L643.2,162.4L652.6,182.1L662,186.8M492.6,124.6L502,128.3L511.4,135.8L520.8,131.9L530.2,121L539.6,89.1L549.1,65.2L558.5,54.7L567.9,67L577.3,98.4L586.7,128.2L596.1,146.4L605.5,146L614.9,147.5L624.3,146.3L633.8,148.7L643.2,161.3L652.6,171.8L662,180.1M492.6,153.3L502,169.8L511.4,182.8L520.8,192.8L530.2,182L539.6,145.6L549.1,108L558.5,80.1L567.9,106.6L577.3,148.4L586.7,193.4L596.1,220.7L605.5,229.3L614.9,209.5L624.3,209.1L633.8,214.8L643.2,222.8L652.6,233.3L662,234.6M492.6,152.1L502,167.5L511.4,182L520.8,184.8L530.2,180.8L539.6,145L549.1,104.6L558.5,79.9L567.9,109.5L577.3,149.4L586.7,193.7L596.1,212.3L605.5,213L614.9,209.7L624.3,203.9L633.8,215.5L643.2,219.5L652.6,228.9L662,220.4M492.6,154L502,168.1L511.4,182.3L520.8,195.7L530.2,184.3L539.6,149L549.1,108L558.5,80.7L567.9,106.3L577.3,147.2L586.7,196L596.1,232L605.5,244.4L614.9,226.3L624.3,204.5L633.8,208.1L643.2,216L652.6,223.9L662,243.7M492.6,125.7L502,128.4L511.4,136.5L520.8,132.1L530.2,125.2L539.6,88.7L549.1,65.5L558.5,55.6L567.9,69.9L577.3,99.3L586.7,126.7L596.1,145.2L605.5,146.7L614.9,148L624.3,147.3L633.8,148.6L643.2,162.1L652.6,171L662,180.9M492.6,125.9L502,142.7L511.4,136.7L520.8,137.1L530.2,122.9L539.6,90.3L549.1,73.1L558.5,56L567.9,74.6L577.3,116.2L586.7,130.5L596.1,171.9L605.5,177.2L614.9,163.7L624.3,160.7L633.8,152.6L643.2,162.5L652.6,177.2L662,191.4M492.6,143.5L502,155.9L511.4,177.4L520.8,171.1L530.2,160.6L539.6,119.2L549.1,97.4L558.5,73.4L567.9,86.8L577.3,142.2L586.7,192.1L596.1,212.5L605.5,202.7L614.9,196.7L624.3,186.8L633.8,203L643.2,212.9L652.6,222.7L662,230.2M492.6,126L502,129L511.4,137L520.8,133.5L530.2,123L539.6,105.3L549.1,67L558.5,61.1L567.9,80.8L577.3,115.1L586.7,159.8L596.1,157.2L605.5,180.7L614.9,168.1L624.3,169.9L633.8,152.7L643.2,170.9L652.6,179.3L662,181.5M492.6,147.7L502,155.2L511.4,160.3L520.8,152.8L530.2,149.6L539.6,103.2L549.1,81.2L558.5,73.2L567.9,95.6L577.3,132L586.7,164.2L596.1,198.7L605.5,204L614.9,204.3L624.3,190.4L633.8,177.4L643.2,184.6L652.6,187.5L662,204.8M492.6,124.9L502,128.6L511.4,136.8L520.8,132.1L530.2,121.4L539.6,89.3L549.1,66.4L558.5,54.8L567.9,67L577.3,99.9L586.7,126.7L596.1,144.4L605.5,147.7L614.9,156.1L624.3,150.4L633.8,149.8L643.2,161.1L652.6,171.5L662,180.9M492.6,142L502,146L511.4,138.6L520.8,162.2L530.2,170.7L539.6,133.7L549.1,96L558.5,74.2L567.9,97.3L577.3,140.7L586.7,186.5L596.1,197.9L605.5,213.6L614.9,208.7L624.3,202.1L633.8,211.9L643.2,224.4L652.6,232.4L662,237.6M492.6,153.6L502,169L511.4,184.3L520.8,193.3L530.2,181.3L539.6,149L549.1,108L558.5,80.7L567.9,108.9L577.3,152L586.7,194.7L596.1,227.1L605.5,244.4L614.9,236L624.3,230L633.8,218.9L643.2,216.1L652.6,230.7L662,234.8M492.6,126.8L502,131.9L511.4,146.3L520.8,153.7L530.2,123L539.6,89.7L549.1,67L558.5,58.5L567.9,82.6L577.3,117.4L586.7,163.7L596.1,173L605.5,157.6L614.9,170.2L624.3,158.9L633.8,152.6L643.2,162.5L652.6,173L662,189.8M492.6,137.2L502,138.3L511.4,161.8L520.8,148L530.2,148L539.6,89.8L549.1,66.8L558.5,64.7L567.9,83.2L577.3,117L586.7,160.5L596.1,206.7L605.5,174.2L614.9,172.2L624.3,166.6L633.8,172.3L643.2,170.8L652.6,173L662,181.2M492.6,126L502,129L511.4,137.3L520.8,150.7L530.2,146.9L539.6,108.1L549.1,70.7L558.5,61.5L567.9,76.2L577.3,121.3L586.7,176L596.1,184.2L605.5,165.3L614.9,193.1L624.3,187.6L633.8,184.2L643.2,186.2L652.6,193.6L662,200.3M492.6,128.9L502,134.8L511.4,145.1L520.8,146.1L530.2,122.7L539.6,90.1L549.1,66.8L558.5,56L567.9,70.7L577.3,124.3L586.7,144.7L596.1,156.4L605.5,153.9L614.9,175.1L624.3,170L633.8,161.7L643.2,163L652.6,177.2L662,183.1M492.6,141.6L502,158.7L511.4,173L520.8,181.4L530.2,177.2L539.6,141.8L549.1,98.1L558.5,77.5L567.9,103.5L577.3,141.8L586.7,158L596.1,179.1L605.5,179.6L614.9,167.4L624.3,189.8L633.8,205L643.2,212.2L652.6,221L662,230.7M492.6,148.1L502,161.3L511.4,178.2L520.8,183L530.2,180.5L539.6,132.1L549.1,90.6L558.5,67.9L567.9,94.6L577.3,131.7L586.7,154L596.1,200L605.5,185.7L614.9,184.3L624.3,181L633.8,178.4L643.2,200.1L652.6,202.9L662,200.7M492.6,135.3L502,148.2L511.4,137.5L520.8,154.5L530.2,161.6L539.6,96.7L549.1,75.2L558.5,58.8L567.9,81.2L577.3,101L586.7,131L596.1,148L605.5,164.5L614.9,175L624.3,157.2L633.8,152.9L643.2,164.5L652.6,183.6L662,202.2M492.6,145.5L502,166.6L511.4,176.9L520.8,175.9L530.2,174.3L539.6,120.3L549.1,91.2L558.5,67.5L567.9,102.1L577.3,147.2L586.7,174.3L596.1,169L605.5,191.9L614.9,188.2L624.3,183.3L633.8,206.3L643.2,209.9L652.6,206.6L662,217M492.6,142.3L502,153.6L511.4,182.1L520.8,165.4L530.2,165.7L539.6,145L549.1,104.5L558.5,76.2L567.9,95.1L577.3,138.8L586.7,189.2L596.1,211.4L605.5,213L614.9,204.1L624.3,204.7L633.8,205.2L643.2,212.7L652.6,218.7L662,232M492.6,131.5L502,128.1L511.4,136.8L520.8,134.6L530.2,122.9L539.6,94.3L549.1,76.8L558.5,69.5L567.9,83.9L577.3,102L586.7,129.2L596.1,147.8L605.5,165.4L614.9,178.1L624.3,172.5L633.8,158.3L643.2,162.5L652.6,175.3L662,187.7M492.6,153L502,169L511.4,182.3L520.8,184.6L530.2,181.2L539.6,145.9L549.1,104.5L558.5,70.9L567.9,89.6L577.3,139.9L586.7,192L596.1,214.2L605.5,214.4L614.9,211.8L624.3,202L633.8,214.1L643.2,224.5L652.6,230.5L662,231.4M492.6,127.4L502,133.8L511.4,141.9L520.8,164.2L530.2,136.7L539.6,107L549.1,73.8L558.5,68.3L567.9,92.2L577.3,106.5L586.7,130.5L596.1,158.2L605.5,158.1L614.9,170.3L624.3,170L633.8,153.8L643.2,165.5L652.6,184.9L662,192.4M492.6,153.1L502,157.6L511.4,177.5L520.8,172.2L530.2,175L539.6,145L549.1,104.6L558.5,78.6L567.9,106.2L577.3,147.1L586.7,188.6L596.1,214.1L605.5,213.7L614.9,206.3L624.3,202.4L633.8,205L643.2,188.6L652.6,198L662,213M492.6,153.2L502,167.3L511.4,182.2L520.8,187.3L530.2,182L539.6,145.3L549.1,103.4L558.5,76.2L567.9,99.7L577.3,147.5L586.7,192.6L596.1,230L605.5,244.4L614.9,233.8L624.3,207.1L633.8,210L643.2,215.6L652.6,221L662,222M492.6,125.7L502,127.8L511.4,136.6L520.8,133.9L530.2,121.9L539.6,96.1L549.1,66.8L558.5,56.7L567.9,72.4L577.3,101.7L586.7,130.1L596.1,147.7L605.5,153.4L614.9,159.4L624.3,158.6L633.8,149.5L643.2,162L652.6,172.1L662,180.8M492.6,153.4L502,168.1L511.4,182L520.8,187.2L530.2,181.6L539.6,145.3L549.1,104.7L558.5,78.5L567.9,106L577.3,141.6L586.7,192.9L596.1,221.7L605.5,201.1L614.9,192.6L624.3,198L633.8,197.7L643.2,188.2L652.6,218.7L662,218.7M492.6,155.4L502,169L511.4,184.3L520.8,187.5L530.2,184.3L539.6,149L549.1,108L558.5,79.2L567.9,109.5L577.3,152L586.7,192.7L596.1,204.2L605.5,212.1L614.9,204.4L624.3,212L633.8,212.8L643.2,219.3L652.6,226.4L662,241M492.6,123.6L502,127.1L511.4,135.2L520.8,130L530.2,119.5L539.6,87L549.1,65.6L558.5,53.3L567.9,67L577.3,100.4L586.7,129.4L596.1,147.4L605.5,156.4L614.9,155.8L624.3,149.4L633.8,151.7L643.2,162.5L652.6,172.8L662,180.8M492.6,153.1L502,162.8L511.4,175.4L520.8,171.1L530.2,180.5L539.6,145L549.1,105.1L558.5,79.4L567.9,106.7L577.3,148.9L586.7,193.7L596.1,225.6L605.5,215.2L614.9,208.8L624.3,218.7L633.8,211.7L643.2,212.8L652.6,222L662,239.6M492.6,148.6L502,150.4L511.4,155.2L520.8,167.3L530.2,161.5L539.6,145.1L549.1,100.7L558.5,69.9L567.9,92L577.3,124.9L586.7,190.5L596.1,200L605.5,214L614.9,205.9L624.3,214.4L633.8,206.2L643.2,213.4L652.6,204L662,215M492.6,125L502,128.5L511.4,136L520.8,130L530.2,120.6L539.6,90.1L549.1,66.3L558.5,56L567.9,69.5L577.3,100.7L586.7,128.7L596.1,146L605.5,148.4L614.9,152.1L624.3,146L633.8,145.9L643.2,162.1L652.6,172.9L662,180.9M492.6,154.8L502,168.9L511.4,184.3L520.8,186.1L530.2,182.3L539.6,149L549.1,106.4L558.5,80.7L567.9,109.5L577.3,152L586.7,194.3L596.1,232L605.5,244.4L614.9,234.9L624.3,230L633.8,222.2L643.2,213L652.6,226.9L662,243.8M492.6,145.5L502,134.9L511.4,139.7L520.8,150.8L530.2,147.1L539.6,100.3L549.1,90.1L558.5,73L567.9,90.2L577.3,111.2L586.7,167.3L596.1,185.2L605.5,201.1L614.9,204L624.3,193.5L633.8,190.4L643.2,206.6L652.6,209.3L662,196.8M492.6,151.1L502,160.1L511.4,169.5L520.8,180.8L530.2,156.6L539.6,109.7L549.1,87.7L558.5,65L567.9,98.6L577.3,131L586.7,152.3L596.1,180.8L605.5,164.4L614.9,194.6L624.3,193.2L633.8,202.5L643.2,211.7L652.6,218.5L662,213.3M492.6,142.5L502,154.3L511.4,162.8L520.8,146.9L530.2,170.3L539.6,132.7L549.1,93.7L558.5,64.1L567.9,98.7L577.3,137.5L586.7,192L596.1,208.8L605.5,194.3L614.9,198.8L624.3,181.2L633.8,170.6L643.2,190.7L652.6,214.3L662,230.2M492.6,144.3L502,152.1L511.4,171.5L520.8,165.5L530.2,159.5L539.6,141.6L549.1,100L558.5,71.5L567.9,100.9L577.3,136.2L586.7,185.2L596.1,189L605.5,183.6L614.9,173.2L624.3,191.6L633.8,205.1L643.2,212.4L652.6,221L662,225.6M492.6,143L502,166.2L511.4,182L520.8,183.7L530.2,177.8L539.6,135.1L549.1,99L558.5,76.2L567.9,92.4L577.3,130.7L586.7,162.2L596.1,208.7L605.5,188.6L614.9,180L624.3,179L633.8,188.8L643.2,190.6L652.6,221.2L662,230.4M492.6,125.9L502,129L511.4,140.8L520.8,134L530.2,125.1L539.6,99.3L549.1,68.5L558.5,57.7L567.9,69.9L577.3,107.9L586.7,130.5L596.1,169.7L605.5,193.3L614.9,193.6L624.3,174.2L633.8,170.6L643.2,171.6L652.6,185.5L662,182.6M492.6,153.1L502,168.2L511.4,182.1L520.8,182.3L530.2,174.8L539.6,145.1L549.1,104.5L558.5,77.6L567.9,106.7L577.3,147.2L586.7,190L596.1,206.5L605.5,213.6L614.9,200.8L624.3,193.9L633.8,205.3L643.2,213.3L652.6,225.1L662,227.8M492.6,125.5L502,128.8L511.4,143.1L520.8,139.8L530.2,121.7L539.6,90.5L549.1,70L558.5,56L567.9,70L577.3,102L586.7,144.1L596.1,155.2L605.5,153.3L614.9,157.4L624.3,167.5L633.8,171L643.2,179.8L652.6,173.6L662,187.8M492.6,155.2L502,170.5L511.4,184.3L520.8,195.8L530.2,184.3L539.6,146.2L549.1,105.6L558.5,80.3L567.9,109.5L577.3,152L586.7,196L596.1,231.7L605.5,223.5L614.9,224.3L624.3,224.9L633.8,210.7L643.2,214.2L652.6,226.9L662,233.9M492.6,126L502,134.5L511.4,136.9L520.8,142.4L530.2,134.2L539.6,124L549.1,67.8L558.5,55.5L567.9,72.3L577.3,115.1L586.7,130.3L596.1,154.4L605.5,172.6L614.9,182.9L624.3,174.4L633.8,152.9L643.2,161.8L652.6,188.4L662,196.8M492.6,148.1L502,154.1L511.4,168.2L520.8,160.8L530.2,158.4L539.6,143.9L549.1,101.8L558.5,72.9L567.9,106.2L577.3,147.8L586.7,192.1L596.1,188.2L605.5,212L614.9,206.8L624.3,198.5L633.8,206.2L643.2,204.9L652.6,211.6L662,217.3M492.6,125.2L502,127.1L511.4,135.7L520.8,131L530.2,120.5L539.6,87L549.1,64L558.5,54.9L567.9,69L577.3,98.4L586.7,126.7L596.1,144L605.5,146L614.9,147.5L624.3,143.5L633.8,145.9L643.2,161L652.6,171.6L662,179.2M492.6,125.9L502,137L511.4,135.4L520.8,132.5L530.2,121.9L539.6,89.7L549.1,65.9L558.5,53.3L567.9,68.1L577.3,99.8L586.7,128.6L596.1,146.4L605.5,150L614.9,160.1L624.3,153.1L633.8,149.6L643.2,160.1L652.6,171.7L662,181.4M492.6,129.7L502,129L511.4,142L520.8,134L530.2,122.9L539.6,90.5L549.1,66.3L558.5,57.8L567.9,69.8L577.3,102L586.7,135.6L596.1,184.7L605.5,177L614.9,176.7L624.3,163.2L633.8,154.6L643.2,163.7L652.6,185.1L662,181.5M492.6,125.8L502,127.9L511.4,136.6L520.8,133.7L530.2,137.7L539.6,103.3L549.1,80.7L558.5,56.8L567.9,70.4L577.3,105.3L586.7,130.4L596.1,148L605.5,154.4L614.9,160.6L624.3,156.8L633.8,148.9L643.2,163L652.6,174L662,181.5M492.6,124.7L502,126.5L511.4,135.7L520.8,131.6L530.2,120.3L539.6,89.7L549.1,66.4L558.5,55.4L567.9,67.6L577.3,98.4L586.7,128.9L596.1,146.1L605.5,147.3L614.9,151.9L624.3,148.8L633.8,146.6L643.2,160.3L652.6,172.1L662,180.5M492.6,126L502,131.1L511.4,140.3L520.8,133.8L530.2,121.3L539.6,89.7L549.1,66.9L558.5,56.2L567.9,82.3L577.3,112.9L586.7,141.2L596.1,163.5L605.5,159.8L614.9,180.9L624.3,166.9L633.8,153L643.2,162.5L652.6,187.3L662,186.1M492.6,154.6L502,168.7L511.4,183.1L520.8,185.5L530.2,183.2L539.6,145.5L549.1,104.9L558.5,78.7L567.9,106L577.3,147.4L586.7,193.3L596.1,215.4L605.5,239.3L614.9,222.7L624.3,216.2L633.8,207.4L643.2,214L652.6,228.8L662,231.2M492.6,124.5L502,128.6L511.4,136.2L520.8,134L530.2,121.8L539.6,89.3L549.1,66.3L558.5,54.6L567.9,67L577.3,98.6L586.7,128.6L596.1,145.3L605.5,152L614.9,147.5L624.3,153L633.8,156L643.2,166.4L652.6,177.7L662,181.4M492.6,135.6L502,132.1L511.4,147.4L520.8,147L530.2,122.7L539.6,90.5L549.1,75.1L558.5,63.5L567.9,82.8L577.3,127.2L586.7,153.6L596.1,157L605.5,175.8L614.9,192.7L624.3,176.7L633.8,186.2L643.2,181.9L652.6,173L662,181.5M492.6,146.8L502,162.5L511.4,182.1L520.8,183.5L530.2,168.9L539.6,140.7L549.1,94.3L558.5,76.6L567.9,106.1L577.3,147L586.7,184.2L596.1,207.9L605.5,188.8L614.9,204.3L624.3,213.8L633.8,206.1L643.2,192.3L652.6,201.9L662,202.7M492.6,127.5L502,142.9L511.4,149.6L520.8,135.3L530.2,134.3L539.6,90.5L549.1,67L558.5,56L567.9,74L577.3,106.1L586.7,131.5L596.1,158.5L605.5,170.2L614.9,172.1L624.3,179.4L633.8,158.6L643.2,174L652.6,200.2L662,199.9M492.6,153L502,168L511.4,182.1L520.8,185.3L530.2,180.6L539.6,145.3L549.1,96.5L558.5,71L567.9,97.7L577.3,147.3L586.7,184.6L596.1,202.7L605.5,212L614.9,197.8L624.3,185.5L633.8,171.3L643.2,202.5L652.6,203L662,222.7M492.6,136.2L502,151.7L511.4,158.9L520.8,169.1L530.2,169.8L539.6,137.5L549.1,103.8L558.5,73.3L567.9,87.8L577.3,120L586.7,181.5L596.1,188.2L605.5,191.7L614.9,195.8L624.3,193L633.8,184.2L643.2,175.7L652.6,209L662,213.9M492.6,153.1L502,156.2L511.4,179L520.8,183.5L530.2,180.7L539.6,145.1L549.1,101.2L558.5,70.9L567.9,100.4L577.3,141L586.7,192.7L596.1,214.7L605.5,214.7L614.9,205.7L624.3,192L633.8,205.3L643.2,212L652.6,208.9L662,230M492.6,141.2L502,150L511.4,175.4L520.8,173.2L530.2,170.9L539.6,138.8L549.1,73.3L558.5,66.5L567.9,95.2L577.3,135.5L586.7,155.3L596.1,173.2L605.5,193.7L614.9,194L624.3,194.6L633.8,179.9L643.2,195.3L652.6,220.3L662,222.6M492.6,125.9L502,128.8L511.4,136.8L520.8,139.8L530.2,141.6L539.6,90.5L549.1,66.5L558.5,55.9L567.9,77.7L577.3,109.3L586.7,143.7L596.1,161.8L605.5,167.5L614.9,163.2L624.3,165.1L633.8,164.2L643.2,166.6L652.6,192L662,181.5M492.6,132.3L502,129L511.4,137L520.8,133.9L530.2,122.3L539.6,89.8L549.1,66.9L558.5,57.5L567.9,69.9L577.3,102L586.7,139.1L596.1,171.7L605.5,168.9L614.9,159.5L624.3,155.5L633.8,152.6L643.2,162.4L652.6,172.9L662,181.3M492.6,155.4L502,169.8L511.4,184.3L520.8,195.8L530.2,184.3L539.6,149L549.1,108L558.5,80.7L567.9,108.3L577.3,149.6L586.7,193.3L596.1,231.3L605.5,239.5L614.9,234.8L624.3,230L633.8,220.2L643.2,224.5L652.6,237.4L662,239.3M492.6,125L502,128L511.4,136.3L520.8,131.6L530.2,121.7L539.6,89.5L549.1,64.2L558.5,54.6L567.9,68.9L577.3,100.1L586.7,129.9L596.1,146.8L605.5,148.6L614.9,156.4L624.3,158.8L633.8,149.2L643.2,161.1L652.6,172.5L662,181.1M492.6,153L502,152.7L511.4,161.4L520.8,157.8L530.2,167.8L539.6,116.5L549.1,93.2L558.5,66.5L567.9,106.1L577.3,141.2L586.7,184L596.1,189.2L605.5,190.6L614.9,204L624.3,202L633.8,189.1L643.2,196L652.6,208.6L662,230.8M492.6,155.4L502,170.5L511.4,184.3L520.8,194.6L530.2,182.2L539.6,149L549.1,108L558.5,79.2L567.9,107.3L577.3,149.1L586.7,194L596.1,232L605.5,244.4L614.9,236L624.3,214.3L633.8,218.7L643.2,221.4L652.6,227.1L662,243.8M492.6,136.6L502,149.4L511.4,168.2L520.8,145.3L530.2,155.1L539.6,115.2L549.1,85.5L558.5,68.9L567.9,90.7L577.3,118.2L586.7,150.9L596.1,171.4L605.5,186.4L614.9,159.5L624.3,177.8L633.8,162.1L643.2,197.4L652.6,202.3L662,221.9M492.6,125.8L502,128.9L511.4,136.9L520.8,130.1L530.2,119.5L539.6,87L549.1,65.2L558.5,54.9L567.9,69.8L577.3,101.8L586.7,132.2L596.1,147.4L605.5,153.8L614.9,156.7L624.3,149.9L633.8,145.9L643.2,161L652.6,171.6L662,180.1M492.6,151.8L502,155.1L511.4,171.4L520.8,176.4L530.2,156.6L539.6,144.4L549.1,95.7L558.5,77.7L567.9,100.7L577.3,134.5L586.7,193.9L596.1,214.3L605.5,194L614.9,190.6L624.3,184.8L633.8,204.9L643.2,212.1L652.6,208.5L662,231.1M492.6,154.2L502,169.3L511.4,182.2L520.8,183.3L530.2,180.6L539.6,145L549.1,105L558.5,79L567.9,106L577.3,144.1L586.7,192L596.1,220.3L605.5,214.9L614.9,212.2L624.3,203.8L633.8,208.3L643.2,212.7L652.6,224L662,230.3M492.6,141L502,165.5L511.4,174.6L520.8,183.8L530.2,161.7L539.6,129.7L549.1,92.2L558.5,69.2L567.9,86.1L577.3,147L586.7,187.5L596.1,200.8L605.5,180.3L614.9,198.2L624.3,202.3L633.8,200.4L643.2,190.5L652.6,212L662,220.9M492.6,146.5L502,155.8L511.4,181.7L520.8,184.7L530.2,180.9L539.6,145.3L549.1,104.5L558.5,79.2L567.9,106.1L577.3,147.1L586.7,192.1L596.1,213.5L605.5,213.4L614.9,213.1L624.3,189.6L633.8,194.7L643.2,212.6L652.6,225.1L662,230.2M492.6,153.1L502,166.7L511.4,182.2L520.8,187.4L530.2,182.9L539.6,146.1L549.1,105L558.5,79.2L567.9,109.5L577.3,149.1L586.7,192.5L596.1,224.1L605.5,212.4L614.9,183.7L624.3,202L633.8,209.1L643.2,217.9L652.6,229L662,237.4M492.6,151.3L502,156.6L511.4,176.8L520.8,170.8L530.2,163.9L539.6,133.7L549.1,100.1L558.5,78.5L567.9,101.7L577.3,141.9L586.7,191.1L596.1,214.3L605.5,215L614.9,211.1L624.3,206.5L633.8,208.2L643.2,215.2L652.6,223L662,231.5M492.6,155.4L502,170.2L511.4,184.3L520.8,195.8L530.2,184.3L539.6,149L549.1,108L558.5,80.7L567.9,109.5L577.3,151.6L586.7,194.1L596.1,232L605.5,220.8L614.9,236L624.3,219L633.8,222.2L643.2,222.7L652.6,237.4L662,243.8M492.6,134.2L502,141.3L511.4,148.5L520.8,151.7L530.2,133.4L539.6,130.1L549.1,81.2L558.5,67.1L567.9,95.3L577.3,123.1L586.7,166.6L596.1,170.6L605.5,161.5L614.9,161.9L624.3,177.3L633.8,184.4L643.2,176L652.6,198L662,192.6M492.6,133.7L502,134.9L511.4,136.9L520.8,140.8L530.2,134.7L539.6,104.3L549.1,72.3L558.5,56L567.9,69.8L577.3,102L586.7,130.2L596.1,147.9L605.5,160.1L614.9,172.5L624.3,172.2L633.8,167.9L643.2,170.2L652.6,189.9L662,205.7M492.6,129.6L502,129L511.4,138.4L520.8,135.7L530.2,154.6L539.6,127.5L549.1,73L558.5,64.1L567.9,78.6L577.3,101.9L586.7,136.3L596.1,148.8L605.5,165.1L614.9,173.6L624.3,164.6L633.8,178.9L643.2,181.8L652.6,179.6L662,181.4M492.6,153L502,168.2L511.4,172.8L520.8,151.8L530.2,162.6L539.6,118.2L549.1,92.5L558.5,78.8L567.9,105.7L577.3,147.1L586.7,180.2L596.1,223L605.5,213.6L614.9,205.4L624.3,202L633.8,198.1L643.2,212.5L652.6,221L662,219.7M492.6,153.5L502,168.5L511.4,182.1L520.8,183.8L530.2,183.4L539.6,146.2L549.1,107.1L558.5,79L567.9,107L577.3,147.4L586.7,181.1L596.1,209.7L605.5,217.2L614.9,222.1L624.3,223.4L633.8,208.7L643.2,213.3L652.6,221L662,231M492.6,154.3L502,170.2L511.4,184.1L520.8,195.8L530.2,183.9L539.6,149L549.1,106.5L558.5,79.3L567.9,106L577.3,148.5L586.7,194.4L596.1,220L605.5,244.4L614.9,236L624.3,230L633.8,222.2L643.2,224.5L652.6,237.4L662,243.8M492.6,132.2L502,144.1L511.4,169.3L520.8,175.4L530.2,180.9L539.6,145.1L549.1,96.6L558.5,68.6L567.9,94L577.3,147L586.7,165.5L596.1,174.9L605.5,186.2L614.9,183.2L624.3,193L633.8,185.5L643.2,194.8L652.6,204.4L662,215.7M492.6,153L502,162.6L511.4,182L520.8,184.7L530.2,181.7L539.6,146.5L549.1,105.7L558.5,78.5L567.9,106L577.3,147.8L586.7,192L596.1,214.4L605.5,213.2L614.9,211.4L624.3,203.5L633.8,200.1L643.2,212.1L652.6,221.6L662,234.7M492.6,154.6L502,169.4L511.4,184.3L520.8,186.1L530.2,183.4L539.6,146.9L549.1,107L558.5,78.9L567.9,108L577.3,148.9L586.7,195.6L596.1,232L605.5,231.9L614.9,209.2L624.3,230L633.8,222.2L643.2,224.5L652.6,225.1L662,231M492.6,140.1L502,164.5L511.4,162.3L520.8,160.4L530.2,153.5L539.6,119.2L549.1,96.3L558.5,69.1L567.9,96L577.3,146.9L586.7,192.1L596.1,216.2L605.5,209.1L614.9,182L624.3,188.9L633.8,194.5L643.2,205.2L652.6,208.9L662,223.9M492.6,151.3L502,165.3L511.4,182L520.8,183.7L530.2,180.6L539.6,145L549.1,101.4L558.5,78.7L567.9,99.4L577.3,147.1L586.7,180.6L596.1,211.4L605.5,196.1L614.9,180.7L624.3,179L633.8,177.5L643.2,210.7L652.6,211.6L662,215.4M492.6,154.2L502,169.9L511.4,182.8L520.8,184.5L530.2,181.3L539.6,147.8L549.1,107.8L558.5,79.2L567.9,106.8L577.3,149.3L586.7,193.1L596.1,214.7L605.5,220.2L614.9,211.9L624.3,214.9L633.8,219.9L643.2,217.6L652.6,223.1L662,231.3M492.6,148.1L502,168L511.4,174.9L520.8,169.9L530.2,169.1L539.6,135L549.1,96.9L558.5,75.2L567.9,106L577.3,139.5L586.7,160.1L596.1,198.9L605.5,215.1L614.9,208.6L624.3,194.6L633.8,202.6L643.2,212.6L652.6,222.3L662,234.8M492.6,145.8L502,152.9L511.4,154.2L520.8,151.8L530.2,154.3L539.6,142.4L549.1,104.7L558.5,78.6L567.9,106.5L577.3,147L586.7,177.7L596.1,215.8L605.5,213.6L614.9,201.8L624.3,202.3L633.8,195.9L643.2,212.9L652.6,209.6L662,215.9M492.6,153.1L502,168.1L511.4,182L520.8,183.8L530.2,175.6L539.6,145.1L549.1,100.7L558.5,71.3L567.9,97.4L577.3,138L586.7,188.1L596.1,214.2L605.5,219.7L614.9,197.6L624.3,182.5L633.8,194.5L643.2,212.5L652.6,223L662,230.1M492.6,123.9L502,128.6L511.4,136.1L520.8,132.2L530.2,119.5L539.6,88.7L549.1,64.9L558.5,53.7L567.9,67.2L577.3,98.8L586.7,130.4L596.1,147.6L605.5,153.2L614.9,151.1L624.3,143.5L633.8,145.9L643.2,160L652.6,171L662,179.6M492.6,125.7L502,130L511.4,137L520.8,133.9L530.2,122.5L539.6,89.6L549.1,66.7L558.5,56L567.9,71.4L577.3,101.7L586.7,129.2L596.1,147.7L605.5,160L614.9,159.1L624.3,157.5L633.8,152L643.2,162.4L652.6,175.7L662,181.3M492.6,124.7L502,126.5L511.4,135L520.8,130L530.2,121.6L539.6,89.5L549.1,66.7L558.5,54.6L567.9,68.1L577.3,98.4L586.7,127.9L596.1,144.6L605.5,146L614.9,147.5L624.3,147.7L633.8,150.2L643.2,161.8L652.6,173L662,181.3M492.6,153.8L502,168.4L511.4,183.6L520.8,189.1L530.2,182.7L539.6,146.8L549.1,106.2L558.5,78.7L567.9,108.4L577.3,152L586.7,195.6L596.1,232L605.5,244.4L614.9,236L624.3,230L633.8,217.7L643.2,224.5L652.6,235.3L662,243.8M492.6,127.7L502,129L511.4,137L520.8,133.9L530.2,122.9L539.6,90.5L549.1,66.4L558.5,54.2L567.9,69.8L577.3,101.8L586.7,129.9L596.1,146.7L605.5,147.8L614.9,153.6L624.3,143.5L633.8,150L643.2,162.1L652.6,172.3L662,181.4M492.6,141.6L502,146.6L511.4,144.8L520.8,156.3L530.2,165.7L539.6,112.8L549.1,91L558.5,70.1L567.9,95.1L577.3,140.7L586.7,191L596.1,194.4L605.5,204.4L614.9,190.7L624.3,165.9L633.8,198.2L643.2,201.9L652.6,205.8L662,229.2M492.6,148.3L502,158.3L511.4,148.2L520.8,160.6L530.2,148.7L539.6,111.2L549.1,88.7L558.5,78.6L567.9,94.8L577.3,137.5L586.7,158.6L596.1,165.4L605.5,179.3L614.9,194.7L624.3,194.9L633.8,197.5L643.2,212.1L652.6,221L662,218.4M492.6,126L502,129L511.4,136.9L520.8,133.6L530.2,122.1L539.6,89.7L549.1,74.6L558.5,63.5L567.9,86.7L577.3,113.7L586.7,137L596.1,163.1L605.5,156.6L614.9,171.3L624.3,166L633.8,166.2L643.2,162.5L652.6,190.9L662,192.8M492.6,153.1L502,156L511.4,182L520.8,178.9L530.2,180.6L539.6,140.5L549.1,102L558.5,77.8L567.9,106.2L577.3,141.8L586.7,192L596.1,214.2L605.5,214L614.9,199.5L624.3,199.2L633.8,194.3L643.2,202.1L652.6,221.4L662,232.1M492.6,154.7L502,168.9L511.4,182.9L520.8,185.8L530.2,183L539.6,146.3L549.1,108L558.5,78.9L567.9,108.3L577.3,152L586.7,194.3L596.1,215.9L605.5,225.4L614.9,209.2L624.3,226.8L633.8,219.9L643.2,221.9L652.6,234.5L662,243.8M492.6,127.6L502,129L511.4,145.1L520.8,154.8L530.2,148L539.6,103.2L549.1,76.4L558.5,55.9L567.9,69.7L577.3,101.3L586.7,129.9L596.1,149.2L605.5,154L614.9,158.3L624.3,153.4L633.8,151.1L643.2,161.1L652.6,173L662,181.5M492.6,153.7L502,168.8L511.4,182.6L520.8,185L530.2,170.5L539.6,145.1L549.1,104.5L558.5,77.9L567.9,106L577.3,147.2L586.7,193L596.1,214.6L605.5,209.4L614.9,211.3L624.3,212.1L633.8,214.2L643.2,215.1L652.6,221.1L662,235.1M492.6,140.2L502,165.4L511.4,176L520.8,168.5L530.2,148.8L539.6,105.5L549.1,77.2L558.5,59.2L567.9,82.8L577.3,118L586.7,147.6L596.1,153L605.5,166.6L614.9,167.7L624.3,173L633.8,158.9L643.2,179.9L652.6,187.5L662,215.8M492.6,126.5L502,146.9L511.4,159L520.8,134.4L530.2,122.9L539.6,100.9L549.1,73.9L558.5,62.8L567.9,79.6L577.3,123.1L586.7,143.4L596.1,147.9L605.5,154.1L614.9,159.4L624.3,158L633.8,152.9L643.2,162.5L652.6,173L662,181.5M492.6,153L502,153.9L511.4,171.2L520.8,169.3L530.2,144.8L539.6,145L549.1,92.6L558.5,77.4L567.9,106L577.3,147.4L586.7,188.8L596.1,172.3L605.5,197.7L614.9,194.6L624.3,200.6L633.8,199.1L643.2,212.5L652.6,221.4L662,226.3M492.6,151.4L502,168L511.4,182L520.8,179L530.2,175.9L539.6,131.4L549.1,95.3L558.5,78.2L567.9,100.7L577.3,147L586.7,188.3L596.1,211.1L605.5,205L614.9,205.3L624.3,202.2L633.8,196.4L643.2,207.6L652.6,221.9L662,230.3M492.6,153.3L502,168.1L511.4,182.3L520.8,185.5L530.2,180.5L539.6,145.5L549.1,104.6L558.5,78.5L567.9,92.4L577.3,137.2L586.7,179.3L596.1,195.8L605.5,205.9L614.9,189.1L624.3,191.8L633.8,170L643.2,192.2L652.6,203.5L662,230.7M492.6,150.4L502,156.3L511.4,182.1L520.8,185L530.2,180.7L539.6,145.1L549.1,104.5L558.5,78.5L567.9,106.1L577.3,147.3L586.7,192L596.1,205.4L605.5,216.3L614.9,204.1L624.3,196.1L633.8,210.3L643.2,213.2L652.6,221.2L662,217.9M492.6,133.1L502,129L511.4,143.6L520.8,140L530.2,123L539.6,89.7L549.1,71.7L558.5,58.6L567.9,72.7L577.3,113.2L586.7,130.5L596.1,167.5L605.5,174.4L614.9,173.7L624.3,172.6L633.8,155.5L643.2,163.4L652.6,179.4L662,181.5M492.6,153.9L502,168L511.4,182.8L520.8,184.4L530.2,180.5L539.6,145L549.1,105.6L558.5,79.1L567.9,106.9L577.3,149.3L586.7,194.4L596.1,226.7L605.5,233.5L614.9,216.4L624.3,211.6L633.8,205L643.2,212.1L652.6,205.1L662,225.6M492.6,125.8L502,132.2L511.4,137L520.8,134L530.2,141.9L539.6,101.1L549.1,76.5L558.5,60.1L567.9,76.1L577.3,114.8L586.7,133.8L596.1,157.5L605.5,154.4L614.9,158.9L624.3,159.2L633.8,152.6L643.2,160.4L652.6,172.3L662,181.8M492.6,126L502,128.3L511.4,136.7L520.8,131.2L530.2,123L539.6,90.4L549.1,67L558.5,56L567.9,69.4L577.3,101.5L586.7,136.3L596.1,161.2L605.5,154.6L614.9,158.9L624.3,158.6L633.8,151.4L643.2,162.4L652.6,172.3L662,180.9M492.6,126.8L502,129L511.4,138.2L520.8,145.8L530.2,128.5L539.6,89.9L549.1,67L558.5,55.8L567.9,74.9L577.3,114.2L586.7,138.5L596.1,158.5L605.5,153.7L614.9,154.6L624.3,156.3L633.8,152.9L643.2,174.4L652.6,173L662,181.3M492.6,126.1L502,141.2L511.4,138.5L520.8,165.8L530.2,148.6L539.6,112L549.1,67.1L558.5,60.8L567.9,69.9L577.3,113.6L586.7,139.5L596.1,166.3L605.5,177.3L614.9,183.8L624.3,189.4L633.8,191.5L643.2,196.1L652.6,190.4L662,186.1M492.6,153L502,168L511.4,182.4L520.8,187.6L530.2,180.7L539.6,139.2L549.1,90.5L558.5,74L567.9,103L577.3,136.3L586.7,192.2L596.1,224.4L605.5,214.5L614.9,210.6L624.3,204.6L633.8,208.1L643.2,213.7L652.6,222.2L662,233.6M492.6,130.4L502,137.5L511.4,154.1L520.8,155.4L530.2,125.1L539.6,106.1L549.1,68.4L558.5,60.7L567.9,84.3L577.3,103.4L586.7,130.5L596.1,166.7L605.5,174.8L614.9,159.2L624.3,171.4L633.8,161.4L643.2,162.5L652.6,182.1L662,186.7"/>
<polyline fill="none" stroke="#fe0404" stroke-width="2.75" stroke-dasharray="22.5 9.05" stroke-linejoin="miter" points="492.8,97.8 502.3,106.7 511,126 521.3,109 530.3,103.6 539.7,79.8 549.2,55.6 558.6,33.5 568,78.5 577.9,83.2 587,115 596,128.5 605.2,137 615,128 624.9,106 634,115.5 643,116 652.8,147 662.3,156.6"/>
<polyline fill="none" stroke="#fe0404" stroke-width="2.75" stroke-dasharray="22.5 9.05" stroke-linejoin="miter" points="492.8,171 501.5,180 511.2,197 520.3,175.5 530.3,192.5 539.4,147 548.5,109.5 558.2,89 567,125 577,151.5 586.6,168.5 596,182 605.8,191.3 615,194 623,191.9 634.4,198.3 643,217 652.5,226 662,228"/>
</g>
<g>
<polygon fill="#0a0a0a" stroke="#0a0a0a" stroke-width="0.8" stroke-linejoin="round" points="697.6,119.6 707,126.5 716.4,133.1 725.8,129.8 735.2,112.7 744.6,82.5 754.1,62 763.5,62 772.9,88.5 782.3,119.3 791.7,137.9 801.1,147.3 810.5,154.1 819.9,155.5 829.3,149 838.7,157.7 848.2,164.6 857.6,178.2 867,194.7 867,229.8 857.6,213.8 848.2,197.4 838.7,184.8 829.3,177 819.9,180 810.5,184.9 801.1,185.2 791.7,176.1 782.3,155.2 772.9,114.5 763.5,77.3 758.6,70.8 754.1,77.3 744.6,104 735.2,150.3 725.8,165.7 716.4,167.9 707,159 697.6,148.4"/>
<path fill="none" stroke="#0a0a0a" stroke-width="0.95" stroke-linejoin="round" d="M697.6,117.6L707,123.8L716.4,129.7L725.8,125.9L735.2,107L744.6,79.4L754.1,62.9L763.5,59.8L772.9,85.1L782.3,113.4L791.7,131.5L801.1,141.5L810.5,150.8L819.9,153.1L829.3,144.4L838.7,155.2L848.2,160.9L857.6,174L867,191M697.6,150.7L707,162.5L716.4,176.2L725.8,177.9L735.2,157.6L744.6,108.2L754.1,75.6L763.5,71.8L772.9,117.9L782.3,162.2L791.7,184.6L801.1,205.2L810.5,204.7L819.9,187L829.3,181L838.7,187.9L848.2,202.1L857.6,220.4L867,241M697.6,121.2L707,125L716.4,147.6L725.8,127.5L735.2,123L744.6,84.1L754.1,63.2L763.5,63.5L772.9,92.6L782.3,126.2L791.7,128.5L801.1,138.5L810.5,157.2L819.9,164.3L829.3,157.9L838.7,160.9L848.2,167.8L857.6,175.9L867,192.4M697.6,118.6L707,124.7L716.4,130.4L725.8,127.2L735.2,116.1L744.6,81.7L754.1,64.6L763.5,59.8L772.9,87.6L782.3,112L791.7,127L801.1,137.5L810.5,149L819.9,154.4L829.3,147.5L838.7,157.4L848.2,162.9L857.6,175.6L867,192.1M697.6,119L707,125.4L716.4,140.3L725.8,136.8L735.2,115.6L744.6,83.8L754.1,63.2L763.5,60.8L772.9,88.5L782.3,116.2L791.7,138.1L801.1,155.6L810.5,163.2L819.9,167.8L829.3,156.8L838.7,165.8L848.2,162.8L857.6,179.2L867,197.1M697.6,145.3L707,160.5L716.4,170.1L725.8,161.6L735.2,137.1L744.6,96.7L754.1,68.5L763.5,63.1L772.9,103.6L782.3,148.6L791.7,175.8L801.1,174.3L810.5,177.2L819.9,168L829.3,158.5L838.7,175.9L848.2,175.7L857.6,196.1L867,232.4M697.6,119L707,141.5L716.4,140.4L725.8,129.5L735.2,119.2L744.6,85.7L754.1,66.2L763.5,63.2L772.9,88.5L782.3,117L791.7,150.7L801.1,163L810.5,163.6L819.9,161.2L829.3,155.6L838.7,157.5L848.2,168.4L857.6,177.1L867,197.2M697.6,127L707,127.4L716.4,139.7L725.8,133L735.2,120.5L744.6,91L754.1,59.8L763.5,69.8L772.9,93.8L782.3,125.4L791.7,162.5L801.1,165.5L810.5,156.3L819.9,159.7L829.3,150.5L838.7,175.1L848.2,173.3L857.6,176.4L867,202.6M697.6,146.4L707,142.7L716.4,159.5L725.8,168L735.2,154.6L744.6,104.4L754.1,78.9L763.5,66.2L772.9,115.2L782.3,161L791.7,180.7L801.1,188.6L810.5,186.2L819.9,182.5L829.3,175.5L838.7,185.5L848.2,196L857.6,207.7L867,230.3M697.6,149.6L707,161.8L716.4,175.9L725.8,178.6L735.2,159L744.6,108.5L754.1,76.9L763.5,69.2L772.9,114.1L782.3,159.4L791.7,180L801.1,197.5L810.5,204L819.9,187.3L829.3,182L838.7,187.8L848.2,203.5L857.6,220.3L867,233.7M697.6,149L707,160.7L716.4,170.8L725.8,168.1L735.2,153.9L744.6,104.3L754.1,76.9L763.5,69.3L772.9,116.6L782.3,157.9L791.7,179.8L801.1,182L810.5,174.8L819.9,180.9L829.3,177.9L838.7,181.5L848.2,184L857.6,206.2L867,217.9M697.6,149.9L707,161L716.4,172.9L725.8,170.2L735.2,154.5L744.6,105.3L754.1,71.9L763.5,73.1L772.9,116.2L782.3,157.7L791.7,179.2L801.1,189.4L810.5,200.8L819.9,190.5L829.3,182L838.7,188.7L848.2,204L857.6,222L867,235.9M697.6,118.7L707,125L716.4,133.9L725.8,127.5L735.2,110L744.6,82.3L754.1,62.5L763.5,63.3L772.9,87.8L782.3,116.9L791.7,136.5L801.1,144.4L810.5,152.9L819.9,155.3L829.3,149.7L838.7,157.5L848.2,163L857.6,176.4L867,205.8M697.6,123.1L707,133.9L716.4,146.4L725.8,161.8L735.2,145.7L744.6,91.6L754.1,64.6L763.5,67.7L772.9,93.9L782.3,132.5L791.7,152.7L801.1,155.9L810.5,157.6L819.9,164.7L829.3,157.7L838.7,173.1L848.2,185.4L857.6,184.4L867,192.4M697.6,149.6L707,163.5L716.4,174.1L725.8,179.7L735.2,159L744.6,105L754.1,76.9L763.5,70.4L772.9,115.3L782.3,157.7L791.7,180.1L801.1,191.3L810.5,207L819.9,184.1L829.3,182L838.7,186.3L848.2,199.7L857.6,218.4L867,238.8M697.6,124.8L707,138.8L716.4,140.5L725.8,149.2L735.2,109.9L744.6,82.4L754.1,59.8L763.5,68.6L772.9,100.3L782.3,118.6L791.7,135L801.1,144.3L810.5,153.5L819.9,155.5L829.3,156.3L838.7,169.4L848.2,162.9L857.6,175.4L867,195.6M697.6,128.3L707,125L716.4,131L725.8,132.6L735.2,116.1L744.6,90.4L754.1,66L763.5,61.6L772.9,90.6L782.3,116.9L791.7,148.8L801.1,169L810.5,172.6L819.9,176L829.3,167.6L838.7,177.1L848.2,185.6L857.6,198.9L867,213.9M697.6,120.4L707,141.6L716.4,142.1L725.8,130.5L735.2,110L744.6,86.5L754.1,62.7L763.5,68.1L772.9,95.4L782.3,134.5L791.7,141.1L801.1,157.1L810.5,182.7L819.9,168.1L829.3,158.3L838.7,170.8L848.2,167.9L857.6,179.1L867,193.7M697.6,121.7L707,126.3L716.4,132.5L725.8,126.8L735.2,113.2L744.6,82.4L754.1,59.8L763.5,67L772.9,88.9L782.3,122.7L791.7,155.1L801.1,154.7L810.5,153.7L819.9,158.9L829.3,147.1L838.7,156.9L848.2,162.5L857.6,175.8L867,192M697.6,144.1L707,150.9L716.4,170.1L725.8,168.6L735.2,154.4L744.6,104.1L754.1,71.9L763.5,73.2L772.9,112.2L782.3,153.5L791.7,159.6L801.1,165.3L810.5,169.4L819.9,166.7L829.3,170.9L838.7,182.7L848.2,198.9L857.6,211.8L867,232.2M697.6,118.8L707,124.3L716.4,130.1L725.8,128.2L735.2,111.6L744.6,82.4L754.1,59.8L763.5,65L772.9,87.7L782.3,114.6L791.7,135L801.1,144.5L810.5,162.7L819.9,159.2L829.3,154.4L838.7,157.5L848.2,167.5L857.6,176L867,197.7M697.6,121.5L707,129.8L716.4,145.9L725.8,150.7L735.2,127.9L744.6,82.3L754.1,70.1L763.5,62.3L772.9,98.2L782.3,121.9L791.7,145.7L801.1,156.9L810.5,167.8L819.9,160.6L829.3,165.8L838.7,174.3L848.2,170.5L857.6,193.7L867,204.9M697.6,146.4L707,153.6L716.4,164.4L725.8,162.9L735.2,153L744.6,104L754.1,74.7L763.5,67L772.9,114.5L782.3,157.8L791.7,179.7L801.1,189.2L810.5,187.8L819.9,175.3L829.3,178L838.7,187.4L848.2,200.5L857.6,216.1L867,232.8M697.6,135.4L707,142L716.4,160.5L725.8,157.2L735.2,143.9L744.6,97.3L754.1,70.2L763.5,73.2L772.9,110.4L782.3,157.6L791.7,178.5L801.1,177.1L810.5,175.7L819.9,178.8L829.3,175.2L838.7,175.7L848.2,197L857.6,197.1L867,199.3M697.6,144.5L707,152L716.4,154.9L725.8,166.4L735.2,132.4L744.6,101.2L754.1,76.7L763.5,66.8L772.9,114.5L782.3,142.5L791.7,178.1L801.1,188.1L810.5,187.8L819.9,170.9L829.3,172.4L838.7,180.6L848.2,176.9L857.6,199.1L867,222.3M697.6,145.8L707,160.6L716.4,163.3L725.8,168L735.2,153.8L744.6,104.1L754.1,77.5L763.5,67.5L772.9,114.8L782.3,147.9L791.7,157.2L801.1,168.7L810.5,173.9L819.9,180L829.3,178.1L838.7,185.5L848.2,200.3L857.6,216.1L867,228.7M697.6,118.9L707,124.7L716.4,131L725.8,128.1L735.2,121.5L744.6,86.8L754.1,67.5L763.5,59.8L772.9,88.4L782.3,130.3L791.7,161.9L801.1,152.2L810.5,160.4L819.9,155.5L829.3,150.7L838.7,156.3L848.2,162.5L857.6,174.9L867,194.9M697.6,149.1L707,161L716.4,170.5L725.8,169L735.2,154.3L744.6,104.7L754.1,72.5L763.5,69.6L772.9,106.2L782.3,144.6L791.7,179L801.1,191L810.5,186.9L819.9,181.6L829.3,167.1L838.7,181.8L848.2,188L857.6,216L867,233.6M697.6,126.5L707,125L716.4,140.8L725.8,127.5L735.2,109.2L744.6,82.4L754.1,65.9L763.5,59.8L772.9,88.3L782.3,117L791.7,134.9L801.1,162.4L810.5,160.5L819.9,159.1L829.3,148.4L838.7,158.3L848.2,174.4L857.6,176L867,192.4M697.6,119.3L707,125L716.4,131L725.8,127.4L735.2,109.9L744.6,82.2L754.1,60.6L763.5,65.9L772.9,97.2L782.3,116.8L791.7,145.5L801.1,158.5L810.5,167.9L819.9,157.7L829.3,148.5L838.7,162.4L848.2,181.3L857.6,180.1L867,198.8M697.6,149.3L707,153.5L716.4,168.9L725.8,163.3L735.2,150.2L744.6,99.3L754.1,68.6L763.5,68.2L772.9,114.7L782.3,157.7L791.7,179.1L801.1,188.5L810.5,186L819.9,180L829.3,178.3L838.7,185L848.2,193.4L857.6,217.1L867,232.1M697.6,149.4L707,160.9L716.4,170L725.8,164.1L735.2,153L744.6,106.1L754.1,72L763.5,72.7L772.9,114.9L782.3,157.6L791.7,179.4L801.1,188.9L810.5,190.3L819.9,186.9L829.3,178.4L838.7,185.8L848.2,200L857.6,216.9L867,233.1M697.6,118.7L707,124.9L716.4,131L725.8,127.3L735.2,109.3L744.6,81.8L754.1,64.5L763.5,59.8L772.9,94.8L782.3,117L791.7,144.4L801.1,151.4L810.5,152.7L819.9,155.5L829.3,148.7L838.7,157.5L848.2,162.2L857.6,175.2L867,190.5M697.6,134L707,126.5L716.4,142.2L725.8,138.8L735.2,132L744.6,83L754.1,64.9L763.5,65.4L772.9,96.3L782.3,117L791.7,134.4L801.1,144.3L810.5,160.5L819.9,168.9L829.3,160.1L838.7,171.2L848.2,183.6L857.6,197.1L867,200.4M697.6,148.8L707,155.4L716.4,170L725.8,169.2L735.2,153.5L744.6,103.6L754.1,73.3L763.5,69.7L772.9,110.2L782.3,155.8L791.7,179.1L801.1,185.5L810.5,186L819.9,178.8L829.3,174.6L838.7,174.9L848.2,191.4L857.6,206.4L867,225.4M697.6,145.5L707,150.1L716.4,146.1L725.8,147L735.2,136.1L744.6,97.9L754.1,76L763.5,68.3L772.9,114.7L782.3,151.6L791.7,160.1L801.1,180.9L810.5,171.2L819.9,163.2L829.3,160.4L838.7,175.2L848.2,196.2L857.6,209.3L867,231.1M697.6,140.1L707,135.3L716.4,139.6L725.8,140.1L735.2,140.9L744.6,100.7L754.1,69.7L763.5,69.9L772.9,106.9L782.3,158.3L791.7,164.6L801.1,156.8L810.5,156.6L819.9,158.6L829.3,158.9L838.7,178L848.2,187.8L857.6,202.3L867,218.7M697.6,150.5L707,162.7L716.4,176.1L725.8,179.7L735.2,159L744.6,106.3L754.1,70.7L763.5,75.7L772.9,114.5L782.3,157.9L791.7,181.7L801.1,202.5L810.5,203.4L819.9,190.5L829.3,178.4L838.7,186L848.2,200.5L857.6,217.1L867,237M697.6,124.6L707,131.4L716.4,147.5L725.8,154.7L735.2,119.8L744.6,82.5L754.1,60L763.5,72.9L772.9,101.7L782.3,128.5L791.7,150.9L801.1,144.5L810.5,152.9L819.9,163.4L829.3,148.5L838.7,158.7L848.2,171.5L857.6,186.7L867,192.5M697.6,151.4L707,163.4L716.4,176.5L725.8,179.7L735.2,159L744.6,108.5L754.1,68.7L763.5,78.2L772.9,117.5L782.3,160.9L791.7,184.3L801.1,197.8L810.5,190.8L819.9,181.4L829.3,178.8L838.7,188.9L848.2,201.8L857.6,217.3L867,233.5M697.6,119L707,139.1L716.4,147.1L725.8,148.8L735.2,122.4L744.6,87.2L754.1,59.8L763.5,66.6L772.9,86.9L782.3,116.4L791.7,135L801.1,164.9L810.5,160.9L819.9,155.3L829.3,148.3L838.7,159L848.2,162.9L857.6,175.9L867,194M697.6,134L707,144.2L716.4,147.7L725.8,144.9L735.2,123.3L744.6,87.9L754.1,71.6L763.5,59.8L772.9,109.1L782.3,139.6L791.7,156L801.1,179L810.5,163.5L819.9,162.7L829.3,163.7L838.7,169.1L848.2,174.4L857.6,180.1L867,199.2M697.6,147.9L707,160.8L716.4,166.8L725.8,159.6L735.2,153L744.6,104.1L754.1,67.7L763.5,73.1L772.9,110.6L782.3,149.6L791.7,177.1L801.1,186.6L810.5,186.3L819.9,180L829.3,177.6L838.7,184.3L848.2,199.1L857.6,216.2L867,232.9M697.6,125.8L707,134.5L716.4,154.4L725.8,150.7L735.2,134.5L744.6,87.7L754.1,65.1L763.5,62.2L772.9,106.6L782.3,121.8L791.7,134.9L801.1,152.4L810.5,162.4L819.9,157.4L829.3,159.1L838.7,167.4L848.2,170.9L857.6,185.3L867,198.1M697.6,147.5L707,160.6L716.4,165.1L725.8,154.4L735.2,145.6L744.6,104L754.1,69.1L763.5,75L772.9,111.2L782.3,157.7L791.7,179.3L801.1,173.6L810.5,182L819.9,175.8L829.3,172.1L838.7,176.6L848.2,191.3L857.6,203.8L867,224.5M697.6,118.5L707,124.4L716.4,129.9L725.8,125.5L735.2,108.5L744.6,80L754.1,66.8L763.5,59.8L772.9,85.8L782.3,116.3L791.7,133.6L801.1,143.8L810.5,151.9L819.9,154.1L829.3,145.4L838.7,155.2L848.2,160.9L857.6,174.7L867,191.7M697.6,149.2L707,163.5L716.4,171.4L725.8,169.5L735.2,153.5L744.6,106L754.1,78.2L763.5,68.3L772.9,114.6L782.3,157.6L791.7,181.3L801.1,191.3L810.5,186.2L819.9,181.2L829.3,177.8L838.7,185.6L848.2,200.4L857.6,216.3L867,233.2M697.6,149L707,160.6L716.4,165.9L725.8,167L735.2,154.2L744.6,100.4L754.1,73L763.5,72.2L772.9,109.7L782.3,140.1L791.7,164.5L801.1,188.5L810.5,183.7L819.9,179.3L829.3,177.5L838.7,184.7L848.2,200.5L857.6,216.7L867,227.7M697.6,120.4L707,124.9L716.4,130.9L725.8,134L735.2,115.7L744.6,82.3L754.1,63L763.5,63.4L772.9,87L782.3,116.1L791.7,132.8L801.1,143.9L810.5,168.9L819.9,173.8L829.3,163.4L838.7,162.1L848.2,163L857.6,176L867,195.7M697.6,131.3L707,149.7L716.4,169.4L725.8,168L735.2,153.3L744.6,100.1L754.1,65.8L763.5,75L772.9,112.1L782.3,157.5L791.7,179.2L801.1,183.9L810.5,174.7L819.9,171.7L829.3,169.3L838.7,176.5L848.2,183.8L857.6,211.9L867,232.1M697.6,149L707,160.5L716.4,170.3L725.8,158.6L735.2,153L744.6,97L754.1,75.1L763.5,70.4L772.9,114.6L782.3,157.7L791.7,179L801.1,194.3L810.5,196.1L819.9,182.4L829.3,177.7L838.7,185.7L848.2,199.7L857.6,216.5L867,232.1M697.6,137.2L707,160.5L716.4,168L725.8,168L735.2,144.1L744.6,104L754.1,69.2L763.5,75.5L772.9,114.7L782.3,157.6L791.7,180.4L801.1,183L810.5,178.7L819.9,177.5L829.3,172.7L838.7,182.7L848.2,199.9L857.6,216L867,230.5M697.6,149.1L707,161.2L716.4,170.5L725.8,170.8L735.2,149.6L744.6,102.6L754.1,78.6L763.5,65.9L772.9,114.6L782.3,157.8L791.7,180.9L801.1,187.3L810.5,185.4L819.9,180.1L829.3,175L838.7,185L848.2,187.1L857.6,201.4L867,223M697.6,124.8L707,135.6L716.4,135.1L725.8,128.1L735.2,109L744.6,82.5L754.1,59.8L763.5,66.7L772.9,87.6L782.3,117L791.7,134.2L801.1,144.1L810.5,151.5L819.9,154.7L829.3,148.2L838.7,156L848.2,162.2L857.6,175.9L867,192.4M697.6,147.6L707,156.5L716.4,170.2L725.8,169.5L735.2,153.2L744.6,104.1L754.1,72.5L763.5,71.9L772.9,114.8L782.3,159.7L791.7,181.6L801.1,198L810.5,191.5L819.9,183.1L829.3,179.6L838.7,185.3L848.2,200.4L857.6,218L867,237.2M697.6,118.8L707,124.9L716.4,131L725.8,127.5L735.2,109.9L744.6,82.4L754.1,64.2L763.5,59.8L772.9,98.6L782.3,129.6L791.7,146.5L801.1,162.9L810.5,163.4L819.9,162.2L829.3,163L838.7,173.2L848.2,176.1L857.6,177.2L867,192.9M697.6,119L707,136.5L716.4,139.8L725.8,127.5L735.2,109.9L744.6,85.4L754.1,68.2L763.5,65L772.9,97.9L782.3,127.4L791.7,160.4L801.1,173.7L810.5,157L819.9,160L829.3,158L838.7,164.2L848.2,174.9L857.6,192.8L867,198.1M697.6,149.3L707,160.7L716.4,172.6L725.8,171.5L735.2,157.2L744.6,106.3L754.1,70.4L763.5,76.5L772.9,115.2L782.3,157.6L791.7,175.2L801.1,188.3L810.5,180.7L819.9,179.9L829.3,178.5L838.7,186.3L848.2,199.3L857.6,216.2L867,233.8M697.6,147L707,160.5L716.4,170L725.8,169.7L735.2,153L744.6,104L754.1,73.4L763.5,70.2L772.9,110.6L782.3,153.6L791.7,163.1L801.1,175.1L810.5,172.9L819.9,172.2L829.3,168.4L838.7,177.5L848.2,198.7L857.6,216.6L867,233.3M697.6,143.6L707,148.9L716.4,157.4L725.8,161.5L735.2,148.8L744.6,96.9L754.1,74L763.5,59.8L772.9,98.5L782.3,133.3L791.7,158.4L801.1,175.4L810.5,166.2L819.9,164.7L829.3,161.5L838.7,163.7L848.2,177.5L857.6,193.2L867,216.9M697.6,149.2L707,160.8L716.4,171.9L725.8,164.2L735.2,152.2L744.6,102.1L754.1,65.9L763.5,79.4L772.9,115.1L782.3,158L791.7,179L801.1,189.1L810.5,187.7L819.9,179.5L829.3,177.8L838.7,185.1L848.2,187.8L857.6,211.3L867,232.3M697.6,130.6L707,125L716.4,131L725.8,132.8L735.2,117.8L744.6,90.9L754.1,60.9L763.5,73.2L772.9,95.4L782.3,141.9L791.7,146.7L801.1,155.1L810.5,175L819.9,170.1L829.3,164.5L838.7,168.7L848.2,184L857.6,216L867,220.5M697.6,137.3L707,152.2L716.4,154.8L725.8,163.6L735.2,144.1L744.6,101.7L754.1,65.5L763.5,77.8L772.9,100.7L782.3,145L791.7,169.1L801.1,180.9L810.5,169.9L819.9,178.1L829.3,169.3L838.7,180.7L848.2,188.4L857.6,204L867,218.1M697.6,147.6L707,149L716.4,162.1L725.8,146.6L735.2,148.4L744.6,95.3L754.1,67.1L763.5,68.9L772.9,111.1L782.3,141.3L791.7,166.4L801.1,183.7L810.5,182.3L819.9,173.2L829.3,174.2L838.7,185.1L848.2,200.9L857.6,218L867,224.2M697.6,149L707,156.2L716.4,154.2L725.8,154L735.2,147.5L744.6,98.2L754.1,73.3L763.5,62.4L772.9,108.1L782.3,139.9L791.7,163.6L801.1,169.9L810.5,185L819.9,180.2L829.3,179L838.7,184.6L848.2,188.2L857.6,208.6L867,213.6M697.6,119L707,125L716.4,131L725.8,136.2L735.2,126.6L744.6,93.1L754.1,69.4L763.5,59.8L772.9,88.5L782.3,118.9L791.7,134.6L801.1,144.1L810.5,152.1L819.9,155.4L829.3,149.6L838.7,157.4L848.2,169.7L857.6,182.5L867,196.6M697.6,137.6L707,146L716.4,147.5L725.8,158.2L735.2,143.4L744.6,103.9L754.1,74.3L763.5,63.7L772.9,112.7L782.3,157.5L791.7,163.6L801.1,186.4L810.5,177.9L819.9,180.2L829.3,177.5L838.7,180.4L848.2,191.4L857.6,207.2L867,200.6M697.6,138.5L707,160.5L716.4,170.3L725.8,166.8L735.2,155.7L744.6,106.3L754.1,70.9L763.5,74.2L772.9,115.1L782.3,160.9L791.7,182.3L801.1,191.2L810.5,201.2L819.9,181.8L829.3,179.9L838.7,187.4L848.2,200.2L857.6,216.3L867,232.1M697.6,127.4L707,137.7L716.4,138.8L725.8,142.2L735.2,119.7L744.6,93.1L754.1,63.5L763.5,63L772.9,88.4L782.3,117L791.7,136.2L801.1,144.4L810.5,152.9L819.9,154.9L829.3,147.9L838.7,163L848.2,165.4L857.6,175.9L867,192.3M697.6,140.1L707,151.1L716.4,170.1L725.8,167.4L735.2,153.4L744.6,103.8L754.1,69.4L763.5,76.2L772.9,113.6L782.3,157.5L791.7,166.9L801.1,179L810.5,175.9L819.9,175.3L829.3,165.7L838.7,165.6L848.2,188.4L857.6,208.4L867,232.2M697.6,149.3L707,161.4L716.4,170.6L725.8,177.2L735.2,159L744.6,108.5L754.1,70.5L763.5,77.3L772.9,116.6L782.3,162.5L791.7,185.1L801.1,208.3L810.5,197L819.9,187.2L829.3,182L838.7,185.7L848.2,199.1L857.6,216.3L867,233.3M697.6,118.9L707,124.6L716.4,131L725.8,127.4L735.2,109.4L744.6,81.5L754.1,59.8L763.5,66.5L772.9,88.2L782.3,117L791.7,134.4L801.1,144.1L810.5,152.8L819.9,156.8L829.3,148.4L838.7,157.4L848.2,162.7L857.6,175.6L867,192.1M697.6,148L707,146.9L716.4,152.7L725.8,163.6L735.2,148.9L744.6,104.1L754.1,66.2L763.5,78.8L772.9,114.5L782.3,157.6L791.7,179.1L801.1,189.8L810.5,184.6L819.9,177.2L829.3,170.4L838.7,180.4L848.2,197.8L857.6,214.2L867,213.3M697.6,123.9L707,139L716.4,148.3L725.8,153.4L735.2,114.3L744.6,82.5L754.1,59.8L763.5,67.4L772.9,98.7L782.3,124.9L791.7,139.6L801.1,154.5L810.5,169.9L819.9,172.7L829.3,158.3L838.7,170.6L848.2,174.5L857.6,200.7L867,231.1M697.6,150.5L707,160.7L716.4,170.4L725.8,173.6L735.2,153.3L744.6,108.5L754.1,73.5L763.5,73.5L772.9,116.1L782.3,160.8L791.7,181L801.1,194.8L810.5,184.7L819.9,183.3L829.3,180.3L838.7,186.7L848.2,200.4L857.6,216.4L867,232.6M697.6,131.1L707,138.6L716.4,145.1L725.8,137L735.2,130.4L744.6,86.4L754.1,66.1L763.5,60L772.9,88.4L782.3,117L791.7,134.6L801.1,144.3L810.5,177.2L819.9,158.4L829.3,159L838.7,161.7L848.2,163L857.6,175.8L867,196.4M697.6,130.7L707,147.8L716.4,170L725.8,166.8L735.2,153.4L744.6,104.5L754.1,76L763.5,67.2L772.9,111L782.3,157.6L791.7,179.1L801.1,186.3L810.5,185.6L819.9,177.9L829.3,177.5L838.7,182.4L848.2,199.4L857.6,216.2L867,232M697.6,149.1L707,162.7L716.4,171.1L725.8,168.2L735.2,154.4L744.6,101.7L754.1,70.4L763.5,73.8L772.9,101.8L782.3,137.8L791.7,172.9L801.1,188.2L810.5,186.5L819.9,179.9L829.3,177.7L838.7,185.6L848.2,199.7L857.6,220L867,239.6M697.6,127.8L707,143.3L716.4,143.8L725.8,130.3L735.2,109.9L744.6,81.6L754.1,67.8L763.5,59.8L772.9,88.5L782.3,133.4L791.7,139.6L801.1,147.5L810.5,158.4L819.9,155.1L829.3,147.4L838.7,172.2L848.2,176.8L857.6,175.9L867,192.4M697.6,148.9L707,160.8L716.4,169.5L725.8,157.8L735.2,137.6L744.6,89.7L754.1,73.6L763.5,70.7L772.9,114.4L782.3,157.5L791.7,179.9L801.1,188.1L810.5,177.7L819.9,180.2L829.3,164.9L838.7,176.9L848.2,199.1L857.6,217.5L867,232.5M697.6,149.2L707,162.1L716.4,173L725.8,179.6L735.2,157.2L744.6,105.1L754.1,73.3L763.5,73.3L772.9,115.6L782.3,160L791.7,179.4L801.1,192.3L810.5,188L819.9,180.5L829.3,177.5L838.7,184.7L848.2,199.2L857.6,218.7L867,236M697.6,149.9L707,150.2L716.4,161.3L725.8,168.2L735.2,155L744.6,105.8L754.1,70.1L763.5,75.4L772.9,116.8L782.3,157.8L791.7,179.1L801.1,181.7L810.5,181.3L819.9,180.9L829.3,173.3L838.7,185.3L848.2,199.2L857.6,216.2L867,229.8M697.6,142.3L707,149.7L716.4,166.8L725.8,162.9L735.2,144.7L744.6,97.1L754.1,69.3L763.5,66.5L772.9,109.3L782.3,136.2L791.7,148.5L801.1,170.3L810.5,185.5L819.9,178.7L829.3,172.2L838.7,185.5L848.2,199L857.6,207.8L867,224.8M697.6,127.4L707,136.6L716.4,130.8L725.8,138.2L735.2,126.2L744.6,91.1L754.1,68.7L763.5,61.6L772.9,102.1L782.3,132.3L791.7,156.4L801.1,144.5L810.5,170.5L819.9,165.9L829.3,159.7L838.7,159.9L848.2,163L857.6,183.2L867,191.6M697.6,149L707,157.7L716.4,170L725.8,150.8L735.2,131L744.6,98.9L754.1,68.4L763.5,60.5L772.9,93.2L782.3,130.6L791.7,154.7L801.1,175.1L810.5,179.9L819.9,171.2L829.3,170.7L838.7,176.3L848.2,188L857.6,194.9L867,220.4M697.6,118.9L707,125L716.4,130.8L725.8,127.1L735.2,110L744.6,81.7L754.1,60.3L763.5,68.7L772.9,98.4L782.3,116.9L791.7,137.9L801.1,145L810.5,154.4L819.9,156L829.3,155.5L838.7,170.9L848.2,174.4L857.6,194.7L867,197.9M697.6,133.4L707,146.3L716.4,135.5L725.8,137.9L735.2,125.7L744.6,101.4L754.1,60.9L763.5,69.9L772.9,88.4L782.3,118.4L791.7,147.3L801.1,159.3L810.5,163.1L819.9,158.8L829.3,154.6L838.7,164.8L848.2,192.7L857.6,197.8L867,200.1M697.6,121.3L707,127.9L716.4,130.9L725.8,127.4L735.2,110.5L744.6,86.8L754.1,69.5L763.5,59.8L772.9,90.4L782.3,132.6L791.7,141.8L801.1,143.4L810.5,153L819.9,161.1L829.3,152.6L838.7,157.6L848.2,172.7L857.6,189.5L867,200.1M697.6,118.9L707,124.9L716.4,131L725.8,132.1L735.2,110L744.6,86.5L754.1,66.1L763.5,60.4L772.9,102.1L782.3,136.3L791.7,148L801.1,157.9L810.5,152.7L819.9,160.7L829.3,148.5L838.7,157.3L848.2,162.9L857.6,175.7L867,192.4M697.6,120.4L707,127L716.4,131L725.8,137.5L735.2,110L744.6,82.5L754.1,69.5L763.5,60.9L772.9,93.9L782.3,128.3L791.7,134.9L801.1,146.3L810.5,162.9L819.9,161.9L829.3,158L838.7,158.7L848.2,166.7L857.6,178.3L867,196.5M697.6,149.5L707,161.9L716.4,176.5L725.8,178L735.2,156.8L744.6,107.5L754.1,70L763.5,75.6L772.9,114.7L782.3,157.7L791.7,184L801.1,193.8L810.5,193L819.9,182.6L829.3,178.4L838.7,186L848.2,200.1L857.6,218.5L867,235.1M697.6,119L707,134.8L716.4,130.9L725.8,127.4L735.2,111.8L744.6,84.7L754.1,60.7L763.5,62.7L772.9,88.2L782.3,120.9L791.7,142.5L801.1,146.1L810.5,153L819.9,155.4L829.3,148.4L838.7,156.9L848.2,162L857.6,175.7L867,200.7M697.6,119L707,129.5L716.4,131L725.8,127.5L735.2,109.7L744.6,83.8L754.1,65L763.5,63.6L772.9,97.8L782.3,126.7L791.7,155L801.1,149L810.5,162.7L819.9,159.2L829.3,150.4L838.7,157.5L848.2,170.1L857.6,185.2L867,209.6M697.6,150L707,163.2L716.4,171.3L725.8,174.9L735.2,153.7L744.6,107L754.1,77.6L763.5,69L772.9,115L782.3,161.1L791.7,181.7L801.1,191.9L810.5,197.4L819.9,181.7L829.3,178.1L838.7,185.5L848.2,199.2L857.6,218.5L867,242.3M697.6,117.5L707,123.8L716.4,130.8L725.8,126.3L735.2,106.6L744.6,79L754.1,64.1L763.5,59.8L772.9,85.7L782.3,113.9L791.7,133.1L801.1,142.2L810.5,152.2L819.9,154L829.3,147.6L838.7,156.7L848.2,162.1L857.6,174.2L867,191.2M697.6,118.9L707,125L716.4,130.9L725.8,127.2L735.2,108L744.6,79.7L754.1,59.8L763.5,66.1L772.9,86.7L782.3,115L791.7,133.2L801.1,144.3L810.5,152.7L819.9,155.3L829.3,145.6L838.7,156.9L848.2,161.9L857.6,175.9L867,191.4M697.6,118.1L707,124.3L716.4,130.1L725.8,127.5L735.2,121.9L744.6,84.2L754.1,65.3L763.5,59.8L772.9,87.2L782.3,116.7L791.7,134.4L801.1,144.4L810.5,152.8L819.9,156.5L829.3,148.4L838.7,157.4L848.2,163L857.6,176L867,197.4M697.6,139.9L707,144.3L716.4,152.6L725.8,155.2L735.2,140.4L744.6,94.2L754.1,72.2L763.5,65.4L772.9,114.5L782.3,158L791.7,173.2L801.1,171.7L810.5,180.6L819.9,174.2L829.3,175.8L838.7,185L848.2,193.9L857.6,208.2L867,211.6M697.6,137.8L707,148.8L716.4,167.6L725.8,149.7L735.2,141.5L744.6,104.1L754.1,69.1L763.5,65.8L772.9,110.3L782.3,157.6L791.7,171.7L801.1,188.1L810.5,187L819.9,174L829.3,171.9L838.7,177.8L848.2,190.4L857.6,211L867,218.7M697.6,118.3L707,124.6L716.4,130.1L725.8,126L735.2,107.2L744.6,81.4L754.1,60.7L763.5,61.5L772.9,86L782.3,115L791.7,132.7L801.1,144L810.5,152.3L819.9,155.3L829.3,148L838.7,157.1L848.2,160.9L857.6,174.4L867,190.5M697.6,131.1L707,124.9L716.4,136.2L725.8,129.4L735.2,109.9L744.6,82.4L754.1,59.8L763.5,68.6L772.9,97.1L782.3,120.5L791.7,135L801.1,154.9L810.5,166.4L819.9,156.8L829.3,148.5L838.7,160L848.2,164.5L857.6,184.6L867,192.8M697.6,128.7L707,130.2L716.4,147.9L725.8,153.8L735.2,127.4L744.6,88.2L754.1,71.1L763.5,59.8L772.9,88.5L782.3,126.4L791.7,152.6L801.1,144.5L810.5,168.2L819.9,158.3L829.3,148.4L838.7,157.4L848.2,164.7L857.6,180.6L867,192.4M697.6,139.3L707,147.6L716.4,166.7L725.8,160L735.2,150.3L744.6,106L754.1,71.6L763.5,73.5L772.9,114.6L782.3,158.2L791.7,180.5L801.1,188.7L810.5,177.8L819.9,165.9L829.3,162.3L838.7,174.3L848.2,180.9L857.6,191.2L867,214.6M697.6,118.8L707,126.2L716.4,131L725.8,127.4L735.2,109.6L744.6,91.6L754.1,65.2L763.5,60.5L772.9,88.4L782.3,120.1L791.7,136.9L801.1,144.5L810.5,152.7L819.9,155.1L829.3,147L838.7,157.3L848.2,163L857.6,178.1L867,192.5M697.6,139.9L707,147.3L716.4,166.7L725.8,160.2L735.2,142.1L744.6,97.6L754.1,75.7L763.5,67.1L772.9,104.4L782.3,146.8L791.7,167.3L801.1,188.1L810.5,186.8L819.9,180L829.3,173.6L838.7,180.3L848.2,199.1L857.6,216L867,232M697.6,129.8L707,135.9L716.4,131L725.8,130.3L735.2,110L744.6,81.6L754.1,64L763.5,59.8L772.9,90.4L782.3,129L791.7,147.5L801.1,155L810.5,156.7L819.9,159.2L829.3,148.5L838.7,163.5L848.2,170.6L857.6,193.1L867,209.7M697.6,118.4L707,124.5L716.4,140.7L725.8,134.9L735.2,128.5L744.6,85.5L754.1,59.8L763.5,64.1L772.9,88.4L782.3,116.8L791.7,143.9L801.1,163.8L810.5,156.8L819.9,168L829.3,162.8L838.7,158.6L848.2,173.1L857.6,186.5L867,199.5M697.6,138.8L707,141L716.4,160.6L725.8,150.6L735.2,153L744.6,98.9L754.1,69.2L763.5,72.6L772.9,106.4L782.3,149.9L791.7,165.7L801.1,185.1L810.5,178L819.9,180.3L829.3,177.8L838.7,176.6L848.2,199.4L857.6,216.1L867,225M697.6,147.9L707,145.2L716.4,158.2L725.8,150.6L735.2,123.3L744.6,89.8L754.1,61L763.5,72.3L772.9,103.6L782.3,146.2L791.7,165.6L801.1,176.2L810.5,180.1L819.9,170L829.3,166.4L838.7,174.7L848.2,183L857.6,192.8L867,217.1M697.6,149.2L707,159.2L716.4,170L725.8,170.9L735.2,158.2L744.6,106.3L754.1,69.6L763.5,78.2L772.9,119L782.3,162.1L791.7,180.2L801.1,191.1L810.5,195.3L819.9,180.9L829.3,177.8L838.7,185L848.2,198.3L857.6,207L867,232.9M697.6,118.9L707,124.9L716.4,130.7L725.8,127.5L735.2,109.9L744.6,87L754.1,59.8L763.5,68.2L772.9,88.5L782.3,116.1L791.7,134.7L801.1,149.9L810.5,163.1L819.9,166.3L829.3,153.4L838.7,158.6L848.2,165.9L857.6,176.1L867,198.4M697.6,150.2L707,159.4L716.4,170L725.8,168L735.2,153.1L744.6,104.1L754.1,79.3L763.5,66.2L772.9,115.4L782.3,157.5L791.7,179.1L801.1,190L810.5,192.8L819.9,180.1L829.3,168L838.7,185.7L848.2,199L857.6,216.1L867,232.2M697.6,149L707,158.6L716.4,170.6L725.8,169.8L735.2,153.4L744.6,97L754.1,65.3L763.5,75.3L772.9,109.9L782.3,157.6L791.7,182.8L801.1,190.9L810.5,187.4L819.9,181.2L829.3,179.3L838.7,178.4L848.2,189.9L857.6,216.2L867,232M697.6,148.6L707,153.4L716.4,152.1L725.8,158.6L735.2,139.9L744.6,97L754.1,72.1L763.5,64.3L772.9,100.8L782.3,149.5L791.7,179L801.1,175.9L810.5,168.7L819.9,174.8L829.3,177.5L838.7,185L848.2,199.2L857.6,216.2L867,230.9M697.6,117.9L707,124.9L716.4,130.3L725.8,127.2L735.2,109.7L744.6,82.1L754.1,59.8L763.5,66.5L772.9,87.2L782.3,116.7L791.7,134.9L801.1,143.3L810.5,152.3L819.9,152.8L829.3,146.6L838.7,156.9L848.2,161.6L857.6,175.9L867,191.6M697.6,136.5L707,137.6L716.4,153.8L725.8,146.1L735.2,132.6L744.6,96.5L754.1,60.8L763.5,72.6L772.9,104.3L782.3,134.8L791.7,163.2L801.1,156.6L810.5,183L819.9,180L829.3,164.1L838.7,169.4L848.2,180.2L857.6,203.7L867,225.7M697.6,149.2L707,160.6L716.4,171L725.8,168.8L735.2,144.5L744.6,101.5L754.1,73.6L763.5,72.6L772.9,116.7L782.3,158.5L791.7,179.4L801.1,189.2L810.5,186.6L819.9,182.1L829.3,177.7L838.7,178.6L848.2,199.2L857.6,216.8L867,232.3M697.6,148.3L707,161.2L716.4,170L725.8,153.4L735.2,148L744.6,104L754.1,74.1L763.5,60.9L772.9,94.5L782.3,131.1L791.7,147.2L801.1,160.9L810.5,167.1L819.9,160.3L829.3,162.9L838.7,181.4L848.2,174.8L857.6,193.4L867,210M697.6,123.8L707,125L716.4,137.5L725.8,135.6L735.2,131.5L744.6,90.7L754.1,59.8L763.5,73.6L772.9,100L782.3,132.9L791.7,161.5L801.1,156.6L810.5,160L819.9,156.4L829.3,163.8L838.7,162.3L848.2,163L857.6,175.9L867,207.8M697.6,140.3L707,152.2L716.4,155.7L725.8,169.3L735.2,147.6L744.6,94L754.1,65.4L763.5,74.7L772.9,108L782.3,142.3L791.7,149.2L801.1,160.8L810.5,185.7L819.9,168.9L829.3,176.1L838.7,186.2L848.2,200.3L857.6,216.3L867,233.4M697.6,149L707,148.8L716.4,170.3L725.8,168L735.2,153.3L744.6,102.1L754.1,76.2L763.5,69.4L772.9,114.9L782.3,157.5L791.7,177.2L801.1,188.5L810.5,186L819.9,177.4L829.3,177.7L838.7,185.6L848.2,200.8L857.6,218.8L867,232.2M697.6,149.6L707,161L716.4,171.9L725.8,169.7L735.2,155.2L744.6,105L754.1,73.9L763.5,72.4L772.9,119L782.3,159.8L791.7,179L801.1,181L810.5,190.7L819.9,189.8L829.3,181.6L838.7,189.7L848.2,201.5L857.6,217.1L867,238.9M697.6,137L707,160.5L716.4,170L725.8,161.2L735.2,143.8L744.6,104L754.1,74.7L763.5,65.2L772.9,111.5L782.3,157.6L791.7,179.6L801.1,190.5L810.5,187.1L819.9,180L829.3,165.3L838.7,177.7L848.2,188.7L857.6,216.4L867,230.4M697.6,117.5L707,124L716.4,130.6L725.8,125.5L735.2,106.5L744.6,81.3L754.1,59.8L763.5,60.6L772.9,85.6L782.3,113.4L791.7,131.5L801.1,141.5L810.5,150.5L819.9,152.5L829.3,144.4L838.7,156.9L848.2,163L857.6,176L867,192.1M697.6,140.7L707,159.2L716.4,155.1L725.8,147.3L735.2,148.4L744.6,101.8L754.1,66.6L763.5,77.1L772.9,103.2L782.3,153.4L791.7,165.9L801.1,179.1L810.5,181.4L819.9,176.7L829.3,163.9L838.7,177L848.2,178.1L857.6,200.8L867,214.8M697.6,129.7L707,143L716.4,155.3L725.8,148.7L735.2,136L744.6,98.4L754.1,68.7L763.5,73.5L772.9,114.5L782.3,157.7L791.7,174.1L801.1,183.3L810.5,179.9L819.9,172.3L829.3,166.3L838.7,170L848.2,186.2L857.6,212L867,221.6M697.6,149L707,160.6L716.4,163.5L725.8,170.8L735.2,155.3L744.6,105L754.1,75.9L763.5,69.6L772.9,114.9L782.3,161.1L791.7,180.8L801.1,193.9L810.5,186.7L819.9,183.1L829.3,178.9L838.7,186.5L848.2,203.1L857.6,216.8L867,226.5M697.6,149L707,160.8L716.4,167.7L725.8,168.9L735.2,151.5L744.6,98.7L754.1,69.8L763.5,75.3L772.9,114.8L782.3,152.2L791.7,179.5L801.1,189L810.5,182.7L819.9,178.5L829.3,177.2L838.7,184.1L848.2,193.4L857.6,216.7L867,232M697.6,137.1L707,150.1L716.4,147.9L725.8,149.7L735.2,126.5L744.6,92.2L754.1,61.8L763.5,65.3L772.9,88.5L782.3,117L791.7,135L801.1,143.7L810.5,152.9L819.9,158.9L829.3,155.4L838.7,158.6L848.2,179.5L857.6,186.9L867,204.5M697.6,149.3L707,160.6L716.4,166L725.8,168.9L735.2,155.3L744.6,105.6L754.1,66.1L763.5,79.6L772.9,117.2L782.3,159L791.7,181L801.1,197.5L810.5,193.8L819.9,185.1L829.3,180.6L838.7,186.9L848.2,204L857.6,218.9L867,236.4"/>
<polyline fill="none" stroke="#fe0404" stroke-width="2.75" stroke-dasharray="22.5 9.05" stroke-linejoin="miter" points="697.8,134.3 707,135.6 716.4,137 725.5,122 735.3,106.6 744.5,82 753.7,57.7 764.3,62.8 773.4,86.9 782.9,100.9 792,113.6 801.3,127.3 810.2,140 819.8,128 829.2,118.6 838.8,128.7 848.3,140.6 857.7,148.6 867.3,157.8"/>
<polyline fill="none" stroke="#fe0404" stroke-width="2.75" stroke-dasharray="22.5 9.05" stroke-linejoin="miter" points="697.8,189.2 707.2,193.2 717.5,198 725.8,174 735.3,141.5 744.2,111.7 752.5,107 763.8,111 773,133.5 782.5,151 791.6,166 801.3,176.5 810.5,175.5 820.4,176.5 829.8,190 839.3,224 848.5,235 857.8,243 867.3,229.6"/>
</g>
<g stroke="#000" stroke-width="1.80" fill="none" stroke-linecap="butt">
<path stroke-linejoin="miter" d="M74,34.4V300.8H260.7"/>
<path stroke-width="1.7" d="M74,57.8H67.2"/>
<path stroke-width="1.7" d="M74,151.4H67.2"/>
<path stroke-width="1.7" d="M74,244.8H67.2"/>
<path stroke-width="1.7" d="M82.4,300.8V307.6"/>
<path stroke-width="1.7" d="M157.9,300.8V307.6"/>
<path stroke-width="1.7" d="M251.6,300.8V307.6"/>
<path stroke-linejoin="miter" d="M279,34.4V300.8H465.8"/>
<path stroke-width="1.7" d="M279,57.8H272.3"/>
<path stroke-width="1.7" d="M279,151.4H272.3"/>
<path stroke-width="1.7" d="M279,244.8H272.3"/>
<path stroke-width="1.7" d="M287.4,300.8V307.6"/>
<path stroke-width="1.7" d="M363,300.8V307.6"/>
<path stroke-width="1.7" d="M456.6,300.8V307.6"/>
<path stroke-linejoin="miter" d="M484.1,34.4V300.8H670.8"/>
<path stroke-width="1.7" d="M484.1,57.8H477.4"/>
<path stroke-width="1.7" d="M484.1,151.4H477.4"/>
<path stroke-width="1.7" d="M484.1,244.8H477.4"/>
<path stroke-width="1.7" d="M492.4,300.8V307.6"/>
<path stroke-width="1.7" d="M568,300.8V307.6"/>
<path stroke-width="1.7" d="M661.7,300.8V307.6"/>
<path stroke-linejoin="miter" d="M689,34.4V300.8H875.8"/>
<path stroke-width="1.7" d="M689,57.8H682.3"/>
<path stroke-width="1.7" d="M689,151.4H682.3"/>
<path stroke-width="1.7" d="M689,244.8H682.3"/>
<path stroke-width="1.7" d="M697.4,300.8V307.6"/>
</g>
<g fill="#1f77b4">
<rect x="1044.70" y="279.0" width="23.95" height="21.5"/>
<rect x="1068.43" y="271.0" width="23.95" height="29.5"/>
<rect x="1092.16" y="202.6" width="23.95" height="97.9"/>
<rect x="1115.89" y="110.1" width="23.95" height="190.4"/>
<rect x="1139.62" y="62.0" width="23.95" height="238.5"/>
<rect x="1163.35" y="45.8" width="23.95" height="254.7"/>
<rect x="1187.08" y="69.9" width="23.95" height="230.6"/>
<rect x="1210.81" y="162.4" width="23.95" height="138.1"/>
<rect x="1234.54" y="190.9" width="23.95" height="109.6"/>
<rect x="1258.27" y="230.8" width="23.95" height="69.7"/>
<rect x="1282.00" y="242.9" width="23.95" height="57.6"/>
<rect x="1305.73" y="247.0" width="23.95" height="53.5"/>
<rect x="1329.46" y="254.9" width="23.95" height="45.6"/>
<rect x="1353.19" y="279.0" width="23.95" height="21.5"/>
<rect x="1376.92" y="286.9" width="23.95" height="13.6"/>
<rect x="1400.65" y="286.9" width="23.95" height="13.6"/>
<rect x="1424.38" y="291.0" width="23.95" height="9.5"/>
<rect x="1471.84" y="295.1" width="23.95" height="5.4"/>
</g>
<g stroke="#000" stroke-width="1.80" fill="none">
<path stroke-linejoin="miter" d="M1012.9,34.3V300.5H1519"/>
<path stroke-width="1.7" d="M1012.9,55.3H1005.4"/>
<path stroke-width="1.7" d="M1012.9,137.1H1005.4"/>
<path stroke-width="1.7" d="M1012.9,218.8H1005.4"/>
<path stroke-width="1.7" d="M1012.9,300.5H1005.4"/>
<path stroke-width="1.7" d="M1146.9,300.5V307.6"/>
<path stroke-width="1.7" d="M1287.8,300.5V307.6"/>
<path stroke-width="1.7" d="M1442.3,300.5V307.6"/>
<path stroke-width="1.7" d="M1494.4,300.5V307.6"/>
</g>
<g font-family="'Liberation Sans', Arial, Helvetica, sans-serif" font-size="30" fill="#000">
<text x="3" y="26.8" font-size="35.3" font-weight="bold" font-style="italic" fill="#1c2674">a)</text>
<text x="902.5" y="39.2" font-size="35.3" font-weight="bold" font-style="italic" fill="#1c2674">b)</text>
<text transform="translate(61.7,66.8) scale(1,1.044)" font-size="30.75" text-anchor="end">2</text>
<text transform="translate(61.7,161.7) scale(1,1.044)" font-size="30.75" text-anchor="end">1</text>
<text transform="translate(61.7,251.2) scale(1,1.044)" font-size="30.75" text-anchor="end">0</text>
<text transform="translate(23.1,209) rotate(-90)"><tspan x="0" y="0">log</tspan><tspan x="40" y="8.7" font-size="18">10</tspan><tspan x="65.5" y="0">(|</tspan><tspan x="84.8" y="0" font-style="italic">p</tspan><tspan x="88.8" y="-2.9" font-size="26">&#x2c6;</tspan><tspan x="103" y="0">|)</tspan></text>
<text transform="translate(87.3,339.7) scale(1,1.044)" font-size="30.75" text-anchor="middle">50</text>
<text transform="translate(158.2,339.7) scale(1,1.044)" font-size="30.75" text-anchor="middle">250</text>
<text transform="translate(238.6,339.7) scale(1,1.044)" font-size="30.75" text-anchor="middle">500</text>
<text transform="translate(156.8,371.8) scale(1,1.02)" text-anchor="middle"><tspan font-style="italic">f</tspan> [kHz]</text>
<text transform="translate(292.6,339.7) scale(1,1.044)" font-size="30.75" text-anchor="middle">50</text>
<text transform="translate(363.9,339.7) scale(1,1.044)" font-size="30.75" text-anchor="middle">250</text>
<text transform="translate(443.8,339.7) scale(1,1.044)" font-size="30.75" text-anchor="middle">500</text>
<text transform="translate(362.9,371.8) scale(1,1.02)" text-anchor="middle"><tspan font-style="italic">f</tspan> [kHz]</text>
<text transform="translate(500.9,339.7) scale(1,1.044)" font-size="30.75" text-anchor="middle">50</text>
<text transform="translate(571.5,339.7) scale(1,1.044)" font-size="30.75" text-anchor="middle">250</text>
<text transform="translate(651.9,339.7) scale(1,1.044)" font-size="30.75" text-anchor="middle">500</text>
<text transform="translate(570.8,371.8) scale(1,1.02)" text-anchor="middle"><tspan font-style="italic">f</tspan> [kHz]</text>
<text transform="translate(702.7,339.7) scale(1,1.044)" font-size="30.75" text-anchor="middle">50</text>
<text transform="translate(773.6,339.7) scale(1,1.044)" font-size="30.75" text-anchor="middle">250</text>
<text transform="translate(854,339.7) scale(1,1.044)" font-size="30.75" text-anchor="middle">500</text>
<text transform="translate(772.5,371.8) scale(1,1.02)" text-anchor="middle"><tspan font-style="italic">f</tspan> [kHz]</text>
<text x="214.2" y="52.6" font-style="italic">s<tspan font-size="17.5" dy="10.2" dx="1">1</tspan></text>
<text x="424.6" y="52.6" font-style="italic">s<tspan font-size="17.5" dy="10.2" dx="-0.8" font-style="normal">2</tspan></text>
<text x="628.2" y="52.6" font-style="italic">s<tspan font-size="17.5" dy="10.2" dx="-0.4">3</tspan></text>
<text x="830" y="52.6" font-style="italic">s<tspan font-size="17.5" dy="10.2" dx="-0.5">4</tspan></text>
<text transform="translate(1002.5,63.1) scale(1,1.044)" font-size="30.75" text-anchor="end">60</text>
<text transform="translate(1002.5,146.6) scale(1,1.044)" font-size="30.75" text-anchor="end">40</text>
<text transform="translate(1002.5,228.7) scale(1,1.044)" font-size="30.75" text-anchor="end">20</text>
<text transform="translate(1002.5,310) scale(1,1.044)" font-size="30.75" text-anchor="end">0</text>
<text transform="translate(1147,335.9) scale(1,1.044)" font-size="30.75" text-anchor="middle">0.10</text>
<text transform="translate(1295,335.9) scale(1,1.044)" font-size="30.75" text-anchor="middle">0.12</text>
<text transform="translate(1442.5,335.9) scale(1,1.044)" font-size="30.75" text-anchor="middle">0.14</text>
<text x="1102" y="365.6">Normalized error <tspan font-family="'Liberation Serif', 'Times New Roman', serif" font-style="italic" font-size="36" dx="0.5">&#x3b4;</tspan></text>
<text transform="translate(956.5,277) rotate(-90)"># assimilations</text>
</g>
</svg>
</body></html>
